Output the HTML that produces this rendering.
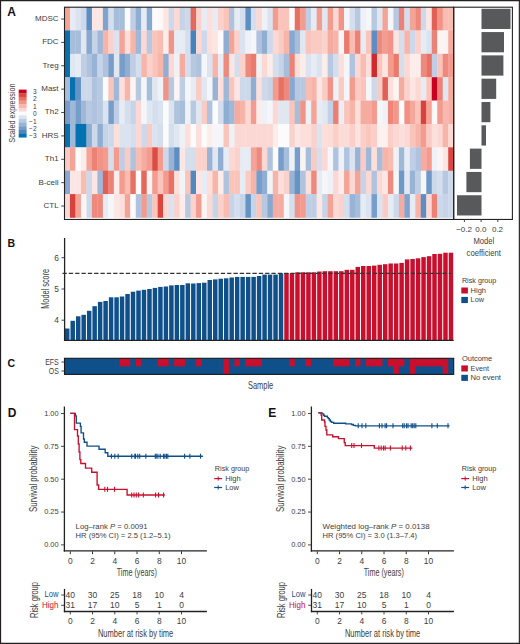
<!DOCTYPE html><html><head><meta charset="utf-8"><style>html,body{margin:0;padding:0;background:#fff;}svg{display:block;font-family:"Liberation Sans",sans-serif;}</style></head><body><svg width="520" height="644" viewBox="0 0 520 644">
<rect x="0" y="0" width="520" height="644" fill="#ffffff"/>
<text x="7.20" y="15.80" font-size="12.00" font-weight="bold" fill="#111">A</text>
<rect x="64.50" y="7.05" width="5.78" height="23.68" fill="#f4a397"/>
<rect x="69.98" y="7.05" width="5.78" height="23.68" fill="#e7ecf4"/>
<rect x="75.46" y="7.05" width="5.78" height="23.68" fill="#dae3ef"/>
<rect x="80.95" y="7.05" width="5.78" height="23.68" fill="#cdd9ea"/>
<rect x="86.43" y="7.05" width="5.78" height="23.68" fill="#5c8ec1"/>
<rect x="91.91" y="7.05" width="5.78" height="23.68" fill="#fce6e3"/>
<rect x="97.39" y="7.05" width="5.78" height="23.68" fill="#fce6e3"/>
<rect x="102.87" y="7.05" width="5.78" height="23.68" fill="#7fa3cd"/>
<rect x="108.35" y="7.05" width="5.78" height="23.68" fill="#d4deec"/>
<rect x="113.84" y="7.05" width="5.78" height="23.68" fill="#a7bedb"/>
<rect x="119.32" y="7.05" width="5.78" height="23.68" fill="#a7bedb"/>
<rect x="124.80" y="7.05" width="5.78" height="23.68" fill="#fbfbfb"/>
<rect x="130.28" y="7.05" width="5.78" height="23.68" fill="#bfcee4"/>
<rect x="135.76" y="7.05" width="5.78" height="23.68" fill="#90add2"/>
<rect x="141.24" y="7.05" width="5.78" height="23.68" fill="#e7ecf4"/>
<rect x="146.73" y="7.05" width="5.78" height="23.68" fill="#87a8d0"/>
<rect x="152.21" y="7.05" width="5.78" height="23.68" fill="#fbfbfb"/>
<rect x="157.69" y="7.05" width="5.78" height="23.68" fill="#fbf8f7"/>
<rect x="163.17" y="7.05" width="5.78" height="23.68" fill="#fce6e3"/>
<rect x="168.65" y="7.05" width="5.78" height="23.68" fill="#cdd9ea"/>
<rect x="174.13" y="7.05" width="5.78" height="23.68" fill="#fbd8d3"/>
<rect x="179.62" y="7.05" width="5.78" height="23.68" fill="#c7d4e7"/>
<rect x="185.10" y="7.05" width="5.78" height="23.68" fill="#cdd9ea"/>
<rect x="190.58" y="7.05" width="5.78" height="23.68" fill="#e4685c"/>
<rect x="196.06" y="7.05" width="5.78" height="23.68" fill="#fbd2cb"/>
<rect x="201.54" y="7.05" width="5.78" height="23.68" fill="#e7ecf4"/>
<rect x="207.02" y="7.05" width="5.78" height="23.68" fill="#fcdfdb"/>
<rect x="212.51" y="7.05" width="5.78" height="23.68" fill="#e7ecf4"/>
<rect x="217.99" y="7.05" width="5.78" height="23.68" fill="#fbd2cb"/>
<rect x="223.47" y="7.05" width="5.78" height="23.68" fill="#fac4bb"/>
<rect x="228.95" y="7.05" width="5.78" height="23.68" fill="#afc3de"/>
<rect x="234.43" y="7.05" width="5.78" height="23.68" fill="#e7ecf4"/>
<rect x="239.91" y="7.05" width="5.78" height="23.68" fill="#d4deec"/>
<rect x="245.40" y="7.05" width="5.78" height="23.68" fill="#5c8ec1"/>
<rect x="250.88" y="7.05" width="5.78" height="23.68" fill="#d4deec"/>
<rect x="256.36" y="7.05" width="5.78" height="23.68" fill="#fbd8d3"/>
<rect x="261.84" y="7.05" width="5.78" height="23.68" fill="#eef1f6"/>
<rect x="267.32" y="7.05" width="5.78" height="23.68" fill="#dae3ef"/>
<rect x="272.80" y="7.05" width="5.78" height="23.68" fill="#f39b8f"/>
<rect x="278.29" y="7.05" width="5.78" height="23.68" fill="#fac4bb"/>
<rect x="283.77" y="7.05" width="5.78" height="23.68" fill="#fac4bb"/>
<rect x="289.25" y="7.05" width="5.78" height="23.68" fill="#fbfbfb"/>
<rect x="294.73" y="7.05" width="5.78" height="23.68" fill="#e77164"/>
<rect x="300.21" y="7.05" width="5.78" height="23.68" fill="#f39b8f"/>
<rect x="305.69" y="7.05" width="5.78" height="23.68" fill="#bfcee4"/>
<rect x="311.18" y="7.05" width="5.78" height="23.68" fill="#e7ecf4"/>
<rect x="316.66" y="7.05" width="5.78" height="23.68" fill="#f39b8f"/>
<rect x="322.14" y="7.05" width="5.78" height="23.68" fill="#e1e7f1"/>
<rect x="327.62" y="7.05" width="5.78" height="23.68" fill="#f39b8f"/>
<rect x="333.10" y="7.05" width="5.78" height="23.68" fill="#fbd8d3"/>
<rect x="338.58" y="7.05" width="5.78" height="23.68" fill="#f19386"/>
<rect x="344.07" y="7.05" width="5.78" height="23.68" fill="#f4f6f9"/>
<rect x="349.55" y="7.05" width="5.78" height="23.68" fill="#d4deec"/>
<rect x="355.03" y="7.05" width="5.78" height="23.68" fill="#b7c9e1"/>
<rect x="360.51" y="7.05" width="5.78" height="23.68" fill="#eef1f6"/>
<rect x="365.99" y="7.05" width="5.78" height="23.68" fill="#f4f6f9"/>
<rect x="371.47" y="7.05" width="5.78" height="23.68" fill="#b7c9e1"/>
<rect x="376.96" y="7.05" width="5.78" height="23.68" fill="#e1e7f1"/>
<rect x="382.44" y="7.05" width="5.78" height="23.68" fill="#f4a397"/>
<rect x="387.92" y="7.05" width="5.78" height="23.68" fill="#f4f6f9"/>
<rect x="393.40" y="7.05" width="5.78" height="23.68" fill="#b7c9e1"/>
<rect x="398.88" y="7.05" width="5.78" height="23.68" fill="#ec8275"/>
<rect x="404.36" y="7.05" width="5.78" height="23.68" fill="#d4deec"/>
<rect x="409.85" y="7.05" width="5.78" height="23.68" fill="#f4a397"/>
<rect x="415.33" y="7.05" width="5.78" height="23.68" fill="#ee8a7d"/>
<rect x="420.81" y="7.05" width="5.78" height="23.68" fill="#cdd9ea"/>
<rect x="426.29" y="7.05" width="5.78" height="23.68" fill="#fce6e3"/>
<rect x="431.77" y="7.05" width="5.78" height="23.68" fill="#e15f54"/>
<rect x="437.25" y="7.05" width="5.78" height="23.68" fill="#f19386"/>
<rect x="442.74" y="7.05" width="5.78" height="23.68" fill="#f9bcb2"/>
<rect x="448.22" y="7.05" width="5.78" height="23.68" fill="#f9bcb2"/>
<rect x="64.50" y="30.43" width="5.78" height="23.68" fill="#0571b0"/>
<rect x="69.98" y="30.43" width="5.78" height="23.68" fill="#a7bedb"/>
<rect x="75.46" y="30.43" width="5.78" height="23.68" fill="#a7bedb"/>
<rect x="80.95" y="30.43" width="5.78" height="23.68" fill="#e1e7f1"/>
<rect x="86.43" y="30.43" width="5.78" height="23.68" fill="#87a8d0"/>
<rect x="91.91" y="30.43" width="5.78" height="23.68" fill="#c7d4e7"/>
<rect x="97.39" y="30.43" width="5.78" height="23.68" fill="#a0b8d8"/>
<rect x="102.87" y="30.43" width="5.78" height="23.68" fill="#f7b4a9"/>
<rect x="108.35" y="30.43" width="5.78" height="23.68" fill="#fbd2cb"/>
<rect x="113.84" y="30.43" width="5.78" height="23.68" fill="#dae3ef"/>
<rect x="119.32" y="30.43" width="5.78" height="23.68" fill="#f4a397"/>
<rect x="124.80" y="30.43" width="5.78" height="23.68" fill="#fcdfdb"/>
<rect x="130.28" y="30.43" width="5.78" height="23.68" fill="#f7b4a9"/>
<rect x="135.76" y="30.43" width="5.78" height="23.68" fill="#a0b8d8"/>
<rect x="141.24" y="30.43" width="5.78" height="23.68" fill="#fbd8d3"/>
<rect x="146.73" y="30.43" width="5.78" height="23.68" fill="#b7c9e1"/>
<rect x="152.21" y="30.43" width="5.78" height="23.68" fill="#fac4bb"/>
<rect x="157.69" y="30.43" width="5.78" height="23.68" fill="#f9bcb2"/>
<rect x="163.17" y="30.43" width="5.78" height="23.68" fill="#fcedeb"/>
<rect x="168.65" y="30.43" width="5.78" height="23.68" fill="#f19386"/>
<rect x="174.13" y="30.43" width="5.78" height="23.68" fill="#e7ecf4"/>
<rect x="179.62" y="30.43" width="5.78" height="23.68" fill="#e7ecf4"/>
<rect x="185.10" y="30.43" width="5.78" height="23.68" fill="#d4deec"/>
<rect x="190.58" y="30.43" width="5.78" height="23.68" fill="#4783bb"/>
<rect x="196.06" y="30.43" width="5.78" height="23.68" fill="#fbd8d3"/>
<rect x="201.54" y="30.43" width="5.78" height="23.68" fill="#cdd9ea"/>
<rect x="207.02" y="30.43" width="5.78" height="23.68" fill="#fcdfdb"/>
<rect x="212.51" y="30.43" width="5.78" height="23.68" fill="#fce6e3"/>
<rect x="217.99" y="30.43" width="5.78" height="23.68" fill="#fbfbfb"/>
<rect x="223.47" y="30.43" width="5.78" height="23.68" fill="#90add2"/>
<rect x="228.95" y="30.43" width="5.78" height="23.68" fill="#f4a397"/>
<rect x="234.43" y="30.43" width="5.78" height="23.68" fill="#fbd2cb"/>
<rect x="239.91" y="30.43" width="5.78" height="23.68" fill="#dae3ef"/>
<rect x="245.40" y="30.43" width="5.78" height="23.68" fill="#eef1f6"/>
<rect x="250.88" y="30.43" width="5.78" height="23.68" fill="#f4f6f9"/>
<rect x="256.36" y="30.43" width="5.78" height="23.68" fill="#afc3de"/>
<rect x="261.84" y="30.43" width="5.78" height="23.68" fill="#90add2"/>
<rect x="267.32" y="30.43" width="5.78" height="23.68" fill="#cdd9ea"/>
<rect x="272.80" y="30.43" width="5.78" height="23.68" fill="#fbd8d3"/>
<rect x="278.29" y="30.43" width="5.78" height="23.68" fill="#facbc3"/>
<rect x="283.77" y="30.43" width="5.78" height="23.68" fill="#f7b4a9"/>
<rect x="289.25" y="30.43" width="5.78" height="23.68" fill="#87a8d0"/>
<rect x="294.73" y="30.43" width="5.78" height="23.68" fill="#a7bedb"/>
<rect x="300.21" y="30.43" width="5.78" height="23.68" fill="#e1e7f1"/>
<rect x="305.69" y="30.43" width="5.78" height="23.68" fill="#fac4bb"/>
<rect x="311.18" y="30.43" width="5.78" height="23.68" fill="#facbc3"/>
<rect x="316.66" y="30.43" width="5.78" height="23.68" fill="#facbc3"/>
<rect x="322.14" y="30.43" width="5.78" height="23.68" fill="#fbd2cb"/>
<rect x="327.62" y="30.43" width="5.78" height="23.68" fill="#f6aba0"/>
<rect x="333.10" y="30.43" width="5.78" height="23.68" fill="#f7b4a9"/>
<rect x="338.58" y="30.43" width="5.78" height="23.68" fill="#f4f6f9"/>
<rect x="344.07" y="30.43" width="5.78" height="23.68" fill="#ea7a6c"/>
<rect x="349.55" y="30.43" width="5.78" height="23.68" fill="#f9bcb2"/>
<rect x="355.03" y="30.43" width="5.78" height="23.68" fill="#ec8275"/>
<rect x="360.51" y="30.43" width="5.78" height="23.68" fill="#e7ecf4"/>
<rect x="365.99" y="30.43" width="5.78" height="23.68" fill="#fac4bb"/>
<rect x="371.47" y="30.43" width="5.78" height="23.68" fill="#5c8ec1"/>
<rect x="376.96" y="30.43" width="5.78" height="23.68" fill="#ee8a7d"/>
<rect x="382.44" y="30.43" width="5.78" height="23.68" fill="#f39b8f"/>
<rect x="387.92" y="30.43" width="5.78" height="23.68" fill="#f19386"/>
<rect x="393.40" y="30.43" width="5.78" height="23.68" fill="#fce6e3"/>
<rect x="398.88" y="30.43" width="5.78" height="23.68" fill="#d4deec"/>
<rect x="404.36" y="30.43" width="5.78" height="23.68" fill="#f7b4a9"/>
<rect x="409.85" y="30.43" width="5.78" height="23.68" fill="#cdd9ea"/>
<rect x="415.33" y="30.43" width="5.78" height="23.68" fill="#fbd2cb"/>
<rect x="420.81" y="30.43" width="5.78" height="23.68" fill="#e7ecf4"/>
<rect x="426.29" y="30.43" width="5.78" height="23.68" fill="#dae3ef"/>
<rect x="431.77" y="30.43" width="5.78" height="23.68" fill="#ec8275"/>
<rect x="437.25" y="30.43" width="5.78" height="23.68" fill="#fbf4f3"/>
<rect x="442.74" y="30.43" width="5.78" height="23.68" fill="#fbf4f3"/>
<rect x="448.22" y="30.43" width="5.78" height="23.68" fill="#f6aba0"/>
<rect x="64.50" y="53.81" width="5.78" height="23.68" fill="#0571b0"/>
<rect x="69.98" y="53.81" width="5.78" height="23.68" fill="#e1e7f1"/>
<rect x="75.46" y="53.81" width="5.78" height="23.68" fill="#e7ecf4"/>
<rect x="80.95" y="53.81" width="5.78" height="23.68" fill="#bfcee4"/>
<rect x="86.43" y="53.81" width="5.78" height="23.68" fill="#afc3de"/>
<rect x="91.91" y="53.81" width="5.78" height="23.68" fill="#98b3d5"/>
<rect x="97.39" y="53.81" width="5.78" height="23.68" fill="#c7d4e7"/>
<rect x="102.87" y="53.81" width="5.78" height="23.68" fill="#afc3de"/>
<rect x="108.35" y="53.81" width="5.78" height="23.68" fill="#779dca"/>
<rect x="113.84" y="53.81" width="5.78" height="23.68" fill="#e1e7f1"/>
<rect x="119.32" y="53.81" width="5.78" height="23.68" fill="#779dca"/>
<rect x="124.80" y="53.81" width="5.78" height="23.68" fill="#90add2"/>
<rect x="130.28" y="53.81" width="5.78" height="23.68" fill="#bfcee4"/>
<rect x="135.76" y="53.81" width="5.78" height="23.68" fill="#d4deec"/>
<rect x="141.24" y="53.81" width="5.78" height="23.68" fill="#f7b4a9"/>
<rect x="146.73" y="53.81" width="5.78" height="23.68" fill="#fbd2cb"/>
<rect x="152.21" y="53.81" width="5.78" height="23.68" fill="#fac4bb"/>
<rect x="157.69" y="53.81" width="5.78" height="23.68" fill="#f7b4a9"/>
<rect x="163.17" y="53.81" width="5.78" height="23.68" fill="#90add2"/>
<rect x="168.65" y="53.81" width="5.78" height="23.68" fill="#fbd8d3"/>
<rect x="174.13" y="53.81" width="5.78" height="23.68" fill="#eef1f6"/>
<rect x="179.62" y="53.81" width="5.78" height="23.68" fill="#f6aba0"/>
<rect x="185.10" y="53.81" width="5.78" height="23.68" fill="#d4deec"/>
<rect x="190.58" y="53.81" width="5.78" height="23.68" fill="#b7c9e1"/>
<rect x="196.06" y="53.81" width="5.78" height="23.68" fill="#afc3de"/>
<rect x="201.54" y="53.81" width="5.78" height="23.68" fill="#f4f6f9"/>
<rect x="207.02" y="53.81" width="5.78" height="23.68" fill="#dae3ef"/>
<rect x="212.51" y="53.81" width="5.78" height="23.68" fill="#f7b4a9"/>
<rect x="217.99" y="53.81" width="5.78" height="23.68" fill="#e7ecf4"/>
<rect x="223.47" y="53.81" width="5.78" height="23.68" fill="#ee8a7d"/>
<rect x="228.95" y="53.81" width="5.78" height="23.68" fill="#fce6e3"/>
<rect x="234.43" y="53.81" width="5.78" height="23.68" fill="#d4deec"/>
<rect x="239.91" y="53.81" width="5.78" height="23.68" fill="#fbd2cb"/>
<rect x="245.40" y="53.81" width="5.78" height="23.68" fill="#ee8a7d"/>
<rect x="250.88" y="53.81" width="5.78" height="23.68" fill="#ea7a6c"/>
<rect x="256.36" y="53.81" width="5.78" height="23.68" fill="#eef1f6"/>
<rect x="261.84" y="53.81" width="5.78" height="23.68" fill="#fbd8d3"/>
<rect x="267.32" y="53.81" width="5.78" height="23.68" fill="#fcedeb"/>
<rect x="272.80" y="53.81" width="5.78" height="23.68" fill="#d4deec"/>
<rect x="278.29" y="53.81" width="5.78" height="23.68" fill="#c7d4e7"/>
<rect x="283.77" y="53.81" width="5.78" height="23.68" fill="#a7bedb"/>
<rect x="289.25" y="53.81" width="5.78" height="23.68" fill="#ec8275"/>
<rect x="294.73" y="53.81" width="5.78" height="23.68" fill="#fcdfdb"/>
<rect x="300.21" y="53.81" width="5.78" height="23.68" fill="#fcedeb"/>
<rect x="305.69" y="53.81" width="5.78" height="23.68" fill="#dae3ef"/>
<rect x="311.18" y="53.81" width="5.78" height="23.68" fill="#e7ecf4"/>
<rect x="316.66" y="53.81" width="5.78" height="23.68" fill="#dae3ef"/>
<rect x="322.14" y="53.81" width="5.78" height="23.68" fill="#fcedeb"/>
<rect x="327.62" y="53.81" width="5.78" height="23.68" fill="#b7c9e1"/>
<rect x="333.10" y="53.81" width="5.78" height="23.68" fill="#d4deec"/>
<rect x="338.58" y="53.81" width="5.78" height="23.68" fill="#fcdfdb"/>
<rect x="344.07" y="53.81" width="5.78" height="23.68" fill="#f4f6f9"/>
<rect x="349.55" y="53.81" width="5.78" height="23.68" fill="#afc3de"/>
<rect x="355.03" y="53.81" width="5.78" height="23.68" fill="#fbd8d3"/>
<rect x="360.51" y="53.81" width="5.78" height="23.68" fill="#f9bcb2"/>
<rect x="365.99" y="53.81" width="5.78" height="23.68" fill="#fcdfdb"/>
<rect x="371.47" y="53.81" width="5.78" height="23.68" fill="#d0282c"/>
<rect x="376.96" y="53.81" width="5.78" height="23.68" fill="#fac4bb"/>
<rect x="382.44" y="53.81" width="5.78" height="23.68" fill="#fce6e3"/>
<rect x="387.92" y="53.81" width="5.78" height="23.68" fill="#f39b8f"/>
<rect x="393.40" y="53.81" width="5.78" height="23.68" fill="#ea7a6c"/>
<rect x="398.88" y="53.81" width="5.78" height="23.68" fill="#d4deec"/>
<rect x="404.36" y="53.81" width="5.78" height="23.68" fill="#fbd8d3"/>
<rect x="409.85" y="53.81" width="5.78" height="23.68" fill="#fcedeb"/>
<rect x="415.33" y="53.81" width="5.78" height="23.68" fill="#fcedeb"/>
<rect x="420.81" y="53.81" width="5.78" height="23.68" fill="#ee8a7d"/>
<rect x="426.29" y="53.81" width="5.78" height="23.68" fill="#e77164"/>
<rect x="431.77" y="53.81" width="5.78" height="23.68" fill="#bfcee4"/>
<rect x="437.25" y="53.81" width="5.78" height="23.68" fill="#fac4bb"/>
<rect x="442.74" y="53.81" width="5.78" height="23.68" fill="#ee8a7d"/>
<rect x="448.22" y="53.81" width="5.78" height="23.68" fill="#f39b8f"/>
<rect x="64.50" y="77.19" width="5.78" height="23.68" fill="#a7bedb"/>
<rect x="69.98" y="77.19" width="5.78" height="23.68" fill="#0571b0"/>
<rect x="75.46" y="77.19" width="5.78" height="23.68" fill="#6593c4"/>
<rect x="80.95" y="77.19" width="5.78" height="23.68" fill="#cdd9ea"/>
<rect x="86.43" y="77.19" width="5.78" height="23.68" fill="#cdd9ea"/>
<rect x="91.91" y="77.19" width="5.78" height="23.68" fill="#afc3de"/>
<rect x="97.39" y="77.19" width="5.78" height="23.68" fill="#b7c9e1"/>
<rect x="102.87" y="77.19" width="5.78" height="23.68" fill="#fbfbfb"/>
<rect x="108.35" y="77.19" width="5.78" height="23.68" fill="#fac4bb"/>
<rect x="113.84" y="77.19" width="5.78" height="23.68" fill="#a0b8d8"/>
<rect x="119.32" y="77.19" width="5.78" height="23.68" fill="#fcdfdb"/>
<rect x="124.80" y="77.19" width="5.78" height="23.68" fill="#f7b4a9"/>
<rect x="130.28" y="77.19" width="5.78" height="23.68" fill="#fbf4f3"/>
<rect x="135.76" y="77.19" width="5.78" height="23.68" fill="#b7c9e1"/>
<rect x="141.24" y="77.19" width="5.78" height="23.68" fill="#f4f6f9"/>
<rect x="146.73" y="77.19" width="5.78" height="23.68" fill="#a7bedb"/>
<rect x="152.21" y="77.19" width="5.78" height="23.68" fill="#e1e7f1"/>
<rect x="157.69" y="77.19" width="5.78" height="23.68" fill="#eef1f6"/>
<rect x="163.17" y="77.19" width="5.78" height="23.68" fill="#f19386"/>
<rect x="168.65" y="77.19" width="5.78" height="23.68" fill="#b7c9e1"/>
<rect x="174.13" y="77.19" width="5.78" height="23.68" fill="#fbf4f3"/>
<rect x="179.62" y="77.19" width="5.78" height="23.68" fill="#bfcee4"/>
<rect x="185.10" y="77.19" width="5.78" height="23.68" fill="#f4f6f9"/>
<rect x="190.58" y="77.19" width="5.78" height="23.68" fill="#e7ecf4"/>
<rect x="196.06" y="77.19" width="5.78" height="23.68" fill="#facbc3"/>
<rect x="201.54" y="77.19" width="5.78" height="23.68" fill="#e1e7f1"/>
<rect x="207.02" y="77.19" width="5.78" height="23.68" fill="#f4f6f9"/>
<rect x="212.51" y="77.19" width="5.78" height="23.68" fill="#98b3d5"/>
<rect x="217.99" y="77.19" width="5.78" height="23.68" fill="#fcdfdb"/>
<rect x="223.47" y="77.19" width="5.78" height="23.68" fill="#a0b8d8"/>
<rect x="228.95" y="77.19" width="5.78" height="23.68" fill="#fac4bb"/>
<rect x="234.43" y="77.19" width="5.78" height="23.68" fill="#fce6e3"/>
<rect x="239.91" y="77.19" width="5.78" height="23.68" fill="#cdd9ea"/>
<rect x="245.40" y="77.19" width="5.78" height="23.68" fill="#cdd9ea"/>
<rect x="250.88" y="77.19" width="5.78" height="23.68" fill="#90add2"/>
<rect x="256.36" y="77.19" width="5.78" height="23.68" fill="#fcdfdb"/>
<rect x="261.84" y="77.19" width="5.78" height="23.68" fill="#cdd9ea"/>
<rect x="267.32" y="77.19" width="5.78" height="23.68" fill="#c7d4e7"/>
<rect x="272.80" y="77.19" width="5.78" height="23.68" fill="#f39b8f"/>
<rect x="278.29" y="77.19" width="5.78" height="23.68" fill="#e77164"/>
<rect x="283.77" y="77.19" width="5.78" height="23.68" fill="#ee8a7d"/>
<rect x="289.25" y="77.19" width="5.78" height="23.68" fill="#87a8d0"/>
<rect x="294.73" y="77.19" width="5.78" height="23.68" fill="#b7c9e1"/>
<rect x="300.21" y="77.19" width="5.78" height="23.68" fill="#b7c9e1"/>
<rect x="305.69" y="77.19" width="5.78" height="23.68" fill="#f9bcb2"/>
<rect x="311.18" y="77.19" width="5.78" height="23.68" fill="#f7b4a9"/>
<rect x="316.66" y="77.19" width="5.78" height="23.68" fill="#fce6e3"/>
<rect x="322.14" y="77.19" width="5.78" height="23.68" fill="#facbc3"/>
<rect x="327.62" y="77.19" width="5.78" height="23.68" fill="#f19386"/>
<rect x="333.10" y="77.19" width="5.78" height="23.68" fill="#eef1f6"/>
<rect x="338.58" y="77.19" width="5.78" height="23.68" fill="#facbc3"/>
<rect x="344.07" y="77.19" width="5.78" height="23.68" fill="#f4f6f9"/>
<rect x="349.55" y="77.19" width="5.78" height="23.68" fill="#f39b8f"/>
<rect x="355.03" y="77.19" width="5.78" height="23.68" fill="#facbc3"/>
<rect x="360.51" y="77.19" width="5.78" height="23.68" fill="#fac4bb"/>
<rect x="365.99" y="77.19" width="5.78" height="23.68" fill="#f4f6f9"/>
<rect x="371.47" y="77.19" width="5.78" height="23.68" fill="#cdd9ea"/>
<rect x="376.96" y="77.19" width="5.78" height="23.68" fill="#facbc3"/>
<rect x="382.44" y="77.19" width="5.78" height="23.68" fill="#e15f54"/>
<rect x="387.92" y="77.19" width="5.78" height="23.68" fill="#fcdfdb"/>
<rect x="393.40" y="77.19" width="5.78" height="23.68" fill="#fbf4f3"/>
<rect x="398.88" y="77.19" width="5.78" height="23.68" fill="#f6aba0"/>
<rect x="404.36" y="77.19" width="5.78" height="23.68" fill="#fbd2cb"/>
<rect x="409.85" y="77.19" width="5.78" height="23.68" fill="#fce6e3"/>
<rect x="415.33" y="77.19" width="5.78" height="23.68" fill="#fbd8d3"/>
<rect x="420.81" y="77.19" width="5.78" height="23.68" fill="#e7ecf4"/>
<rect x="426.29" y="77.19" width="5.78" height="23.68" fill="#fac4bb"/>
<rect x="431.77" y="77.19" width="5.78" height="23.68" fill="#ca0020"/>
<rect x="437.25" y="77.19" width="5.78" height="23.68" fill="#ec8275"/>
<rect x="442.74" y="77.19" width="5.78" height="23.68" fill="#e1e7f1"/>
<rect x="448.22" y="77.19" width="5.78" height="23.68" fill="#f6aba0"/>
<rect x="64.50" y="100.57" width="5.78" height="23.68" fill="#779dca"/>
<rect x="69.98" y="100.57" width="5.78" height="23.68" fill="#a0b8d8"/>
<rect x="75.46" y="100.57" width="5.78" height="23.68" fill="#779dca"/>
<rect x="80.95" y="100.57" width="5.78" height="23.68" fill="#a0b8d8"/>
<rect x="86.43" y="100.57" width="5.78" height="23.68" fill="#b7c9e1"/>
<rect x="91.91" y="100.57" width="5.78" height="23.68" fill="#afc3de"/>
<rect x="97.39" y="100.57" width="5.78" height="23.68" fill="#b7c9e1"/>
<rect x="102.87" y="100.57" width="5.78" height="23.68" fill="#dae3ef"/>
<rect x="108.35" y="100.57" width="5.78" height="23.68" fill="#779dca"/>
<rect x="113.84" y="100.57" width="5.78" height="23.68" fill="#bfcee4"/>
<rect x="119.32" y="100.57" width="5.78" height="23.68" fill="#e7ecf4"/>
<rect x="124.80" y="100.57" width="5.78" height="23.68" fill="#d4deec"/>
<rect x="130.28" y="100.57" width="5.78" height="23.68" fill="#c7d4e7"/>
<rect x="135.76" y="100.57" width="5.78" height="23.68" fill="#fbd8d3"/>
<rect x="141.24" y="100.57" width="5.78" height="23.68" fill="#f4f6f9"/>
<rect x="146.73" y="100.57" width="5.78" height="23.68" fill="#e1e7f1"/>
<rect x="152.21" y="100.57" width="5.78" height="23.68" fill="#d4deec"/>
<rect x="157.69" y="100.57" width="5.78" height="23.68" fill="#dae3ef"/>
<rect x="163.17" y="100.57" width="5.78" height="23.68" fill="#fbfbfb"/>
<rect x="168.65" y="100.57" width="5.78" height="23.68" fill="#dae3ef"/>
<rect x="174.13" y="100.57" width="5.78" height="23.68" fill="#afc3de"/>
<rect x="179.62" y="100.57" width="5.78" height="23.68" fill="#a7bedb"/>
<rect x="185.10" y="100.57" width="5.78" height="23.68" fill="#eef1f6"/>
<rect x="190.58" y="100.57" width="5.78" height="23.68" fill="#b7c9e1"/>
<rect x="196.06" y="100.57" width="5.78" height="23.68" fill="#e1e7f1"/>
<rect x="201.54" y="100.57" width="5.78" height="23.68" fill="#facbc3"/>
<rect x="207.02" y="100.57" width="5.78" height="23.68" fill="#afc3de"/>
<rect x="212.51" y="100.57" width="5.78" height="23.68" fill="#fbfbfb"/>
<rect x="217.99" y="100.57" width="5.78" height="23.68" fill="#d4deec"/>
<rect x="223.47" y="100.57" width="5.78" height="23.68" fill="#90add2"/>
<rect x="228.95" y="100.57" width="5.78" height="23.68" fill="#a0b8d8"/>
<rect x="234.43" y="100.57" width="5.78" height="23.68" fill="#f6aba0"/>
<rect x="239.91" y="100.57" width="5.78" height="23.68" fill="#f7b4a9"/>
<rect x="245.40" y="100.57" width="5.78" height="23.68" fill="#fbd8d3"/>
<rect x="250.88" y="100.57" width="5.78" height="23.68" fill="#f39b8f"/>
<rect x="256.36" y="100.57" width="5.78" height="23.68" fill="#fcedeb"/>
<rect x="261.84" y="100.57" width="5.78" height="23.68" fill="#eef1f6"/>
<rect x="267.32" y="100.57" width="5.78" height="23.68" fill="#f4f6f9"/>
<rect x="272.80" y="100.57" width="5.78" height="23.68" fill="#fbd8d3"/>
<rect x="278.29" y="100.57" width="5.78" height="23.68" fill="#e1e7f1"/>
<rect x="283.77" y="100.57" width="5.78" height="23.68" fill="#e1e7f1"/>
<rect x="289.25" y="100.57" width="5.78" height="23.68" fill="#fac4bb"/>
<rect x="294.73" y="100.57" width="5.78" height="23.68" fill="#a7bedb"/>
<rect x="300.21" y="100.57" width="5.78" height="23.68" fill="#f19386"/>
<rect x="305.69" y="100.57" width="5.78" height="23.68" fill="#eef1f6"/>
<rect x="311.18" y="100.57" width="5.78" height="23.68" fill="#f4a397"/>
<rect x="316.66" y="100.57" width="5.78" height="23.68" fill="#e7ecf4"/>
<rect x="322.14" y="100.57" width="5.78" height="23.68" fill="#e1e7f1"/>
<rect x="327.62" y="100.57" width="5.78" height="23.68" fill="#c3d1e6"/>
<rect x="333.10" y="100.57" width="5.78" height="23.68" fill="#eb7e71"/>
<rect x="338.58" y="100.57" width="5.78" height="23.68" fill="#ebeff5"/>
<rect x="344.07" y="100.57" width="5.78" height="23.68" fill="#fac4bb"/>
<rect x="349.55" y="100.57" width="5.78" height="23.68" fill="#f7b4a9"/>
<rect x="355.03" y="100.57" width="5.78" height="23.68" fill="#fcdfdb"/>
<rect x="360.51" y="100.57" width="5.78" height="23.68" fill="#f6aba0"/>
<rect x="365.99" y="100.57" width="5.78" height="23.68" fill="#f6aba0"/>
<rect x="371.47" y="100.57" width="5.78" height="23.68" fill="#f39b8f"/>
<rect x="376.96" y="100.57" width="5.78" height="23.68" fill="#f4f6f9"/>
<rect x="382.44" y="100.57" width="5.78" height="23.68" fill="#eef1f6"/>
<rect x="387.92" y="100.57" width="5.78" height="23.68" fill="#ed8679"/>
<rect x="393.40" y="100.57" width="5.78" height="23.68" fill="#f2978a"/>
<rect x="398.88" y="100.57" width="5.78" height="23.68" fill="#fbfbfb"/>
<rect x="404.36" y="100.57" width="5.78" height="23.68" fill="#f08f82"/>
<rect x="409.85" y="100.57" width="5.78" height="23.68" fill="#f5a79c"/>
<rect x="415.33" y="100.57" width="5.78" height="23.68" fill="#fac4bb"/>
<rect x="420.81" y="100.57" width="5.78" height="23.68" fill="#d8423c"/>
<rect x="426.29" y="100.57" width="5.78" height="23.68" fill="#f4a397"/>
<rect x="431.77" y="100.57" width="5.78" height="23.68" fill="#fbf8f7"/>
<rect x="437.25" y="100.57" width="5.78" height="23.68" fill="#f39b8f"/>
<rect x="442.74" y="100.57" width="5.78" height="23.68" fill="#f8b8ae"/>
<rect x="448.22" y="100.57" width="5.78" height="23.68" fill="#f7afa5"/>
<rect x="64.50" y="123.95" width="5.78" height="23.68" fill="#0571b0"/>
<rect x="69.98" y="123.95" width="5.78" height="23.68" fill="#a0b8d8"/>
<rect x="75.46" y="123.95" width="5.78" height="23.68" fill="#0571b0"/>
<rect x="80.95" y="123.95" width="5.78" height="23.68" fill="#0571b0"/>
<rect x="86.43" y="123.95" width="5.78" height="23.68" fill="#90add2"/>
<rect x="91.91" y="123.95" width="5.78" height="23.68" fill="#cdd9ea"/>
<rect x="97.39" y="123.95" width="5.78" height="23.68" fill="#90add2"/>
<rect x="102.87" y="123.95" width="5.78" height="23.68" fill="#c7d4e7"/>
<rect x="108.35" y="123.95" width="5.78" height="23.68" fill="#cdd9ea"/>
<rect x="113.84" y="123.95" width="5.78" height="23.68" fill="#fcdfdb"/>
<rect x="119.32" y="123.95" width="5.78" height="23.68" fill="#dae3ef"/>
<rect x="124.80" y="123.95" width="5.78" height="23.68" fill="#dae3ef"/>
<rect x="130.28" y="123.95" width="5.78" height="23.68" fill="#d4deec"/>
<rect x="135.76" y="123.95" width="5.78" height="23.68" fill="#fbd8d3"/>
<rect x="141.24" y="123.95" width="5.78" height="23.68" fill="#cdd9ea"/>
<rect x="146.73" y="123.95" width="5.78" height="23.68" fill="#facbc3"/>
<rect x="152.21" y="123.95" width="5.78" height="23.68" fill="#dae3ef"/>
<rect x="157.69" y="123.95" width="5.78" height="23.68" fill="#d4deec"/>
<rect x="163.17" y="123.95" width="5.78" height="23.68" fill="#fbfbfb"/>
<rect x="168.65" y="123.95" width="5.78" height="23.68" fill="#d4deec"/>
<rect x="174.13" y="123.95" width="5.78" height="23.68" fill="#e1e7f1"/>
<rect x="179.62" y="123.95" width="5.78" height="23.68" fill="#eef1f6"/>
<rect x="185.10" y="123.95" width="5.78" height="23.68" fill="#fcdfdb"/>
<rect x="190.58" y="123.95" width="5.78" height="23.68" fill="#fbfbfb"/>
<rect x="196.06" y="123.95" width="5.78" height="23.68" fill="#fcdfdb"/>
<rect x="201.54" y="123.95" width="5.78" height="23.68" fill="#fbfbfb"/>
<rect x="207.02" y="123.95" width="5.78" height="23.68" fill="#fcedeb"/>
<rect x="212.51" y="123.95" width="5.78" height="23.68" fill="#f4f6f9"/>
<rect x="217.99" y="123.95" width="5.78" height="23.68" fill="#f4f6f9"/>
<rect x="223.47" y="123.95" width="5.78" height="23.68" fill="#fac4bb"/>
<rect x="228.95" y="123.95" width="5.78" height="23.68" fill="#eef1f6"/>
<rect x="234.43" y="123.95" width="5.78" height="23.68" fill="#fbd8d3"/>
<rect x="239.91" y="123.95" width="5.78" height="23.68" fill="#fbd8d3"/>
<rect x="245.40" y="123.95" width="5.78" height="23.68" fill="#fbd8d3"/>
<rect x="250.88" y="123.95" width="5.78" height="23.68" fill="#fbd8d3"/>
<rect x="256.36" y="123.95" width="5.78" height="23.68" fill="#fbd8d3"/>
<rect x="261.84" y="123.95" width="5.78" height="23.68" fill="#fbd8d3"/>
<rect x="267.32" y="123.95" width="5.78" height="23.68" fill="#fbd8d3"/>
<rect x="272.80" y="123.95" width="5.78" height="23.68" fill="#fcedeb"/>
<rect x="278.29" y="123.95" width="5.78" height="23.68" fill="#fbfbfb"/>
<rect x="283.77" y="123.95" width="5.78" height="23.68" fill="#fbfbfb"/>
<rect x="289.25" y="123.95" width="5.78" height="23.68" fill="#fbd2cb"/>
<rect x="294.73" y="123.95" width="5.78" height="23.68" fill="#fce6e3"/>
<rect x="300.21" y="123.95" width="5.78" height="23.68" fill="#fcdfdb"/>
<rect x="305.69" y="123.95" width="5.78" height="23.68" fill="#fcdfdb"/>
<rect x="311.18" y="123.95" width="5.78" height="23.68" fill="#fbd2cb"/>
<rect x="316.66" y="123.95" width="5.78" height="23.68" fill="#dae3ef"/>
<rect x="322.14" y="123.95" width="5.78" height="23.68" fill="#fcdfdb"/>
<rect x="327.62" y="123.95" width="5.78" height="23.68" fill="#fcdcd7"/>
<rect x="333.10" y="123.95" width="5.78" height="23.68" fill="#fbcec7"/>
<rect x="338.58" y="123.95" width="5.78" height="23.68" fill="#fcdcd7"/>
<rect x="344.07" y="123.95" width="5.78" height="23.68" fill="#fcdcd7"/>
<rect x="349.55" y="123.95" width="5.78" height="23.68" fill="#fbcec7"/>
<rect x="355.03" y="123.95" width="5.78" height="23.68" fill="#fce3df"/>
<rect x="360.51" y="123.95" width="5.78" height="23.68" fill="#fbcec7"/>
<rect x="365.99" y="123.95" width="5.78" height="23.68" fill="#fac7bf"/>
<rect x="371.47" y="123.95" width="5.78" height="23.68" fill="#fbcec7"/>
<rect x="376.96" y="123.95" width="5.78" height="23.68" fill="#fcf1ef"/>
<rect x="382.44" y="123.95" width="5.78" height="23.68" fill="#fcf1ef"/>
<rect x="387.92" y="123.95" width="5.78" height="23.68" fill="#fbcec7"/>
<rect x="393.40" y="123.95" width="5.78" height="23.68" fill="#fbd8d3"/>
<rect x="398.88" y="123.95" width="5.78" height="23.68" fill="#fcdfdb"/>
<rect x="404.36" y="123.95" width="5.78" height="23.68" fill="#fbd8d3"/>
<rect x="409.85" y="123.95" width="5.78" height="23.68" fill="#fac4bb"/>
<rect x="415.33" y="123.95" width="5.78" height="23.68" fill="#f7b4a9"/>
<rect x="420.81" y="123.95" width="5.78" height="23.68" fill="#f39b8f"/>
<rect x="426.29" y="123.95" width="5.78" height="23.68" fill="#facbc3"/>
<rect x="431.77" y="123.95" width="5.78" height="23.68" fill="#fcdfdb"/>
<rect x="437.25" y="123.95" width="5.78" height="23.68" fill="#fbd8d3"/>
<rect x="442.74" y="123.95" width="5.78" height="23.68" fill="#f7b4a9"/>
<rect x="448.22" y="123.95" width="5.78" height="23.68" fill="#fbd8d3"/>
<rect x="64.50" y="147.33" width="5.78" height="23.68" fill="#facbc3"/>
<rect x="69.98" y="147.33" width="5.78" height="23.68" fill="#f4a397"/>
<rect x="75.46" y="147.33" width="5.78" height="23.68" fill="#fbfbfb"/>
<rect x="80.95" y="147.33" width="5.78" height="23.68" fill="#fcedeb"/>
<rect x="86.43" y="147.33" width="5.78" height="23.68" fill="#f4a397"/>
<rect x="91.91" y="147.33" width="5.78" height="23.68" fill="#ec8275"/>
<rect x="97.39" y="147.33" width="5.78" height="23.68" fill="#f19386"/>
<rect x="102.87" y="147.33" width="5.78" height="23.68" fill="#f39b8f"/>
<rect x="108.35" y="147.33" width="5.78" height="23.68" fill="#d4deec"/>
<rect x="113.84" y="147.33" width="5.78" height="23.68" fill="#f39b8f"/>
<rect x="119.32" y="147.33" width="5.78" height="23.68" fill="#bfcee4"/>
<rect x="124.80" y="147.33" width="5.78" height="23.68" fill="#facbc3"/>
<rect x="130.28" y="147.33" width="5.78" height="23.68" fill="#afc3de"/>
<rect x="135.76" y="147.33" width="5.78" height="23.68" fill="#f9bcb2"/>
<rect x="141.24" y="147.33" width="5.78" height="23.68" fill="#f6aba0"/>
<rect x="146.73" y="147.33" width="5.78" height="23.68" fill="#f39b8f"/>
<rect x="152.21" y="147.33" width="5.78" height="23.68" fill="#db4c44"/>
<rect x="157.69" y="147.33" width="5.78" height="23.68" fill="#f39b8f"/>
<rect x="163.17" y="147.33" width="5.78" height="23.68" fill="#cdd9ea"/>
<rect x="168.65" y="147.33" width="5.78" height="23.68" fill="#98b3d5"/>
<rect x="174.13" y="147.33" width="5.78" height="23.68" fill="#5c8ec1"/>
<rect x="179.62" y="147.33" width="5.78" height="23.68" fill="#fce6e3"/>
<rect x="185.10" y="147.33" width="5.78" height="23.68" fill="#d4deec"/>
<rect x="190.58" y="147.33" width="5.78" height="23.68" fill="#d4deec"/>
<rect x="196.06" y="147.33" width="5.78" height="23.68" fill="#fbd2cb"/>
<rect x="201.54" y="147.33" width="5.78" height="23.68" fill="#fbd2cb"/>
<rect x="207.02" y="147.33" width="5.78" height="23.68" fill="#98b3d5"/>
<rect x="212.51" y="147.33" width="5.78" height="23.68" fill="#e1e7f1"/>
<rect x="217.99" y="147.33" width="5.78" height="23.68" fill="#90add2"/>
<rect x="223.47" y="147.33" width="5.78" height="23.68" fill="#e7ecf4"/>
<rect x="228.95" y="147.33" width="5.78" height="23.68" fill="#fbd8d3"/>
<rect x="234.43" y="147.33" width="5.78" height="23.68" fill="#fbd2cb"/>
<rect x="239.91" y="147.33" width="5.78" height="23.68" fill="#e7ecf4"/>
<rect x="245.40" y="147.33" width="5.78" height="23.68" fill="#e7ecf4"/>
<rect x="250.88" y="147.33" width="5.78" height="23.68" fill="#f4a397"/>
<rect x="256.36" y="147.33" width="5.78" height="23.68" fill="#ee8a7d"/>
<rect x="261.84" y="147.33" width="5.78" height="23.68" fill="#fbd8d3"/>
<rect x="267.32" y="147.33" width="5.78" height="23.68" fill="#afc3de"/>
<rect x="272.80" y="147.33" width="5.78" height="23.68" fill="#fbfbfb"/>
<rect x="278.29" y="147.33" width="5.78" height="23.68" fill="#779dca"/>
<rect x="283.77" y="147.33" width="5.78" height="23.68" fill="#a7bedb"/>
<rect x="289.25" y="147.33" width="5.78" height="23.68" fill="#eef1f6"/>
<rect x="294.73" y="147.33" width="5.78" height="23.68" fill="#779dca"/>
<rect x="300.21" y="147.33" width="5.78" height="23.68" fill="#fbf4f3"/>
<rect x="305.69" y="147.33" width="5.78" height="23.68" fill="#a7bedb"/>
<rect x="311.18" y="147.33" width="5.78" height="23.68" fill="#facbc3"/>
<rect x="316.66" y="147.33" width="5.78" height="23.68" fill="#d4deec"/>
<rect x="322.14" y="147.33" width="5.78" height="23.68" fill="#fbd8d3"/>
<rect x="327.62" y="147.33" width="5.78" height="23.68" fill="#f4f6f9"/>
<rect x="333.10" y="147.33" width="5.78" height="23.68" fill="#afc3de"/>
<rect x="338.58" y="147.33" width="5.78" height="23.68" fill="#eef1f6"/>
<rect x="344.07" y="147.33" width="5.78" height="23.68" fill="#afc3de"/>
<rect x="349.55" y="147.33" width="5.78" height="23.68" fill="#dae3ef"/>
<rect x="355.03" y="147.33" width="5.78" height="23.68" fill="#98b3d5"/>
<rect x="360.51" y="147.33" width="5.78" height="23.68" fill="#facbc3"/>
<rect x="365.99" y="147.33" width="5.78" height="23.68" fill="#a0b8d8"/>
<rect x="371.47" y="147.33" width="5.78" height="23.68" fill="#fcdfdb"/>
<rect x="376.96" y="147.33" width="5.78" height="23.68" fill="#a7bedb"/>
<rect x="382.44" y="147.33" width="5.78" height="23.68" fill="#f7b4a9"/>
<rect x="387.92" y="147.33" width="5.78" height="23.68" fill="#f9bcb2"/>
<rect x="393.40" y="147.33" width="5.78" height="23.68" fill="#eef1f6"/>
<rect x="398.88" y="147.33" width="5.78" height="23.68" fill="#a0b8d8"/>
<rect x="404.36" y="147.33" width="5.78" height="23.68" fill="#e7ecf4"/>
<rect x="409.85" y="147.33" width="5.78" height="23.68" fill="#bfcee4"/>
<rect x="415.33" y="147.33" width="5.78" height="23.68" fill="#afc3de"/>
<rect x="420.81" y="147.33" width="5.78" height="23.68" fill="#f6aba0"/>
<rect x="426.29" y="147.33" width="5.78" height="23.68" fill="#f39b8f"/>
<rect x="431.77" y="147.33" width="5.78" height="23.68" fill="#eef1f6"/>
<rect x="437.25" y="147.33" width="5.78" height="23.68" fill="#fbf4f3"/>
<rect x="442.74" y="147.33" width="5.78" height="23.68" fill="#fce6e3"/>
<rect x="448.22" y="147.33" width="5.78" height="23.68" fill="#d94740"/>
<rect x="64.50" y="170.71" width="5.78" height="23.68" fill="#87a8d0"/>
<rect x="69.98" y="170.71" width="5.78" height="23.68" fill="#fce6e3"/>
<rect x="75.46" y="170.71" width="5.78" height="23.68" fill="#fce6e3"/>
<rect x="80.95" y="170.71" width="5.78" height="23.68" fill="#f9bcb2"/>
<rect x="86.43" y="170.71" width="5.78" height="23.68" fill="#cdd9ea"/>
<rect x="91.91" y="170.71" width="5.78" height="23.68" fill="#fce6e3"/>
<rect x="97.39" y="170.71" width="5.78" height="23.68" fill="#a0b8d8"/>
<rect x="102.87" y="170.71" width="5.78" height="23.68" fill="#e15f54"/>
<rect x="108.35" y="170.71" width="5.78" height="23.68" fill="#ec8275"/>
<rect x="113.84" y="170.71" width="5.78" height="23.68" fill="#fcedeb"/>
<rect x="119.32" y="170.71" width="5.78" height="23.68" fill="#f39b8f"/>
<rect x="124.80" y="170.71" width="5.78" height="23.68" fill="#f9bcb2"/>
<rect x="130.28" y="170.71" width="5.78" height="23.68" fill="#e77164"/>
<rect x="135.76" y="170.71" width="5.78" height="23.68" fill="#fbfbfb"/>
<rect x="141.24" y="170.71" width="5.78" height="23.68" fill="#e4685c"/>
<rect x="146.73" y="170.71" width="5.78" height="23.68" fill="#fbf4f3"/>
<rect x="152.21" y="170.71" width="5.78" height="23.68" fill="#f39b8f"/>
<rect x="157.69" y="170.71" width="5.78" height="23.68" fill="#fac4bb"/>
<rect x="163.17" y="170.71" width="5.78" height="23.68" fill="#f39b8f"/>
<rect x="168.65" y="170.71" width="5.78" height="23.68" fill="#e77164"/>
<rect x="174.13" y="170.71" width="5.78" height="23.68" fill="#fcdfdb"/>
<rect x="179.62" y="170.71" width="5.78" height="23.68" fill="#f1f4f7"/>
<rect x="185.10" y="170.71" width="5.78" height="23.68" fill="#fac4bb"/>
<rect x="190.58" y="170.71" width="5.78" height="23.68" fill="#5288be"/>
<rect x="196.06" y="170.71" width="5.78" height="23.68" fill="#fce6e3"/>
<rect x="201.54" y="170.71" width="5.78" height="23.68" fill="#e7ecf4"/>
<rect x="207.02" y="170.71" width="5.78" height="23.68" fill="#fcdfdb"/>
<rect x="212.51" y="170.71" width="5.78" height="23.68" fill="#f7b4a9"/>
<rect x="217.99" y="170.71" width="5.78" height="23.68" fill="#fcedeb"/>
<rect x="223.47" y="170.71" width="5.78" height="23.68" fill="#afc3de"/>
<rect x="228.95" y="170.71" width="5.78" height="23.68" fill="#fac4bb"/>
<rect x="234.43" y="170.71" width="5.78" height="23.68" fill="#fac4bb"/>
<rect x="239.91" y="170.71" width="5.78" height="23.68" fill="#e7ecf4"/>
<rect x="245.40" y="170.71" width="5.78" height="23.68" fill="#facbc3"/>
<rect x="250.88" y="170.71" width="5.78" height="23.68" fill="#f7b4a9"/>
<rect x="256.36" y="170.71" width="5.78" height="23.68" fill="#779dca"/>
<rect x="261.84" y="170.71" width="5.78" height="23.68" fill="#90add2"/>
<rect x="267.32" y="170.71" width="5.78" height="23.68" fill="#f1f4f7"/>
<rect x="272.80" y="170.71" width="5.78" height="23.68" fill="#f7b4a9"/>
<rect x="278.29" y="170.71" width="5.78" height="23.68" fill="#fcdfdb"/>
<rect x="283.77" y="170.71" width="5.78" height="23.68" fill="#fbd2cb"/>
<rect x="289.25" y="170.71" width="5.78" height="23.68" fill="#98b3d5"/>
<rect x="294.73" y="170.71" width="5.78" height="23.68" fill="#6593c4"/>
<rect x="300.21" y="170.71" width="5.78" height="23.68" fill="#afc3de"/>
<rect x="305.69" y="170.71" width="5.78" height="23.68" fill="#fcdfdb"/>
<rect x="311.18" y="170.71" width="5.78" height="23.68" fill="#ee8a7d"/>
<rect x="316.66" y="170.71" width="5.78" height="23.68" fill="#e7ecf4"/>
<rect x="322.14" y="170.71" width="5.78" height="23.68" fill="#f4f6f9"/>
<rect x="327.62" y="170.71" width="5.78" height="23.68" fill="#eef1f6"/>
<rect x="333.10" y="170.71" width="5.78" height="23.68" fill="#fbd8d3"/>
<rect x="338.58" y="170.71" width="5.78" height="23.68" fill="#fcedeb"/>
<rect x="344.07" y="170.71" width="5.78" height="23.68" fill="#f4a397"/>
<rect x="349.55" y="170.71" width="5.78" height="23.68" fill="#fbd8d3"/>
<rect x="355.03" y="170.71" width="5.78" height="23.68" fill="#f4a397"/>
<rect x="360.51" y="170.71" width="5.78" height="23.68" fill="#c7d4e7"/>
<rect x="365.99" y="170.71" width="5.78" height="23.68" fill="#fbd8d3"/>
<rect x="371.47" y="170.71" width="5.78" height="23.68" fill="#afc3de"/>
<rect x="376.96" y="170.71" width="5.78" height="23.68" fill="#fbd8d3"/>
<rect x="382.44" y="170.71" width="5.78" height="23.68" fill="#fce6e3"/>
<rect x="387.92" y="170.71" width="5.78" height="23.68" fill="#ee8a7d"/>
<rect x="393.40" y="170.71" width="5.78" height="23.68" fill="#f4f6f9"/>
<rect x="398.88" y="170.71" width="5.78" height="23.68" fill="#6e98c7"/>
<rect x="404.36" y="170.71" width="5.78" height="23.68" fill="#e1e7f1"/>
<rect x="409.85" y="170.71" width="5.78" height="23.68" fill="#98b3d5"/>
<rect x="415.33" y="170.71" width="5.78" height="23.68" fill="#bfcee4"/>
<rect x="420.81" y="170.71" width="5.78" height="23.68" fill="#f4f6f9"/>
<rect x="426.29" y="170.71" width="5.78" height="23.68" fill="#6e98c7"/>
<rect x="431.77" y="170.71" width="5.78" height="23.68" fill="#cdd9ea"/>
<rect x="437.25" y="170.71" width="5.78" height="23.68" fill="#d4deec"/>
<rect x="442.74" y="170.71" width="5.78" height="23.68" fill="#b7c9e1"/>
<rect x="448.22" y="170.71" width="5.78" height="23.68" fill="#cdd9ea"/>
<rect x="64.50" y="194.09" width="5.78" height="23.68" fill="#fbd8d3"/>
<rect x="69.98" y="194.09" width="5.78" height="23.68" fill="#d8423c"/>
<rect x="75.46" y="194.09" width="5.78" height="23.68" fill="#f4a397"/>
<rect x="80.95" y="194.09" width="5.78" height="23.68" fill="#fbf4f3"/>
<rect x="86.43" y="194.09" width="5.78" height="23.68" fill="#cdd9ea"/>
<rect x="91.91" y="194.09" width="5.78" height="23.68" fill="#ee8a7d"/>
<rect x="97.39" y="194.09" width="5.78" height="23.68" fill="#ee8a7d"/>
<rect x="102.87" y="194.09" width="5.78" height="23.68" fill="#e7ecf4"/>
<rect x="108.35" y="194.09" width="5.78" height="23.68" fill="#f4f6f9"/>
<rect x="113.84" y="194.09" width="5.78" height="23.68" fill="#fce6e3"/>
<rect x="119.32" y="194.09" width="5.78" height="23.68" fill="#fcdfdb"/>
<rect x="124.80" y="194.09" width="5.78" height="23.68" fill="#f4a397"/>
<rect x="130.28" y="194.09" width="5.78" height="23.68" fill="#fbfbfb"/>
<rect x="135.76" y="194.09" width="5.78" height="23.68" fill="#afc3de"/>
<rect x="141.24" y="194.09" width="5.78" height="23.68" fill="#f39b8f"/>
<rect x="146.73" y="194.09" width="5.78" height="23.68" fill="#b7c9e1"/>
<rect x="152.21" y="194.09" width="5.78" height="23.68" fill="#fac4bb"/>
<rect x="157.69" y="194.09" width="5.78" height="23.68" fill="#d94740"/>
<rect x="163.17" y="194.09" width="5.78" height="23.68" fill="#fbd8d3"/>
<rect x="168.65" y="194.09" width="5.78" height="23.68" fill="#dae3ef"/>
<rect x="174.13" y="194.09" width="5.78" height="23.68" fill="#fbd2cb"/>
<rect x="179.62" y="194.09" width="5.78" height="23.68" fill="#fcedeb"/>
<rect x="185.10" y="194.09" width="5.78" height="23.68" fill="#b7c9e1"/>
<rect x="190.58" y="194.09" width="5.78" height="23.68" fill="#fbd2cb"/>
<rect x="196.06" y="194.09" width="5.78" height="23.68" fill="#f39b8f"/>
<rect x="201.54" y="194.09" width="5.78" height="23.68" fill="#fbf4f3"/>
<rect x="207.02" y="194.09" width="5.78" height="23.68" fill="#fbd8d3"/>
<rect x="212.51" y="194.09" width="5.78" height="23.68" fill="#c7d4e7"/>
<rect x="217.99" y="194.09" width="5.78" height="23.68" fill="#fbd2cb"/>
<rect x="223.47" y="194.09" width="5.78" height="23.68" fill="#f9bcb2"/>
<rect x="228.95" y="194.09" width="5.78" height="23.68" fill="#c7d4e7"/>
<rect x="234.43" y="194.09" width="5.78" height="23.68" fill="#d4deec"/>
<rect x="239.91" y="194.09" width="5.78" height="23.68" fill="#c7d4e7"/>
<rect x="245.40" y="194.09" width="5.78" height="23.68" fill="#6593c4"/>
<rect x="250.88" y="194.09" width="5.78" height="23.68" fill="#c7d4e7"/>
<rect x="256.36" y="194.09" width="5.78" height="23.68" fill="#fac4bb"/>
<rect x="261.84" y="194.09" width="5.78" height="23.68" fill="#b7c9e1"/>
<rect x="267.32" y="194.09" width="5.78" height="23.68" fill="#87a8d0"/>
<rect x="272.80" y="194.09" width="5.78" height="23.68" fill="#f6aba0"/>
<rect x="278.29" y="194.09" width="5.78" height="23.68" fill="#f6aba0"/>
<rect x="283.77" y="194.09" width="5.78" height="23.68" fill="#f4f6f9"/>
<rect x="289.25" y="194.09" width="5.78" height="23.68" fill="#d4deec"/>
<rect x="294.73" y="194.09" width="5.78" height="23.68" fill="#f19386"/>
<rect x="300.21" y="194.09" width="5.78" height="23.68" fill="#f39b8f"/>
<rect x="305.69" y="194.09" width="5.78" height="23.68" fill="#bfcee4"/>
<rect x="311.18" y="194.09" width="5.78" height="23.68" fill="#bfcee4"/>
<rect x="316.66" y="194.09" width="5.78" height="23.68" fill="#fce6e3"/>
<rect x="322.14" y="194.09" width="5.78" height="23.68" fill="#c7d4e7"/>
<rect x="327.62" y="194.09" width="5.78" height="23.68" fill="#f4a397"/>
<rect x="333.10" y="194.09" width="5.78" height="23.68" fill="#fbd8d3"/>
<rect x="338.58" y="194.09" width="5.78" height="23.68" fill="#fbd2cb"/>
<rect x="344.07" y="194.09" width="5.78" height="23.68" fill="#d4deec"/>
<rect x="349.55" y="194.09" width="5.78" height="23.68" fill="#98b3d5"/>
<rect x="355.03" y="194.09" width="5.78" height="23.68" fill="#a7bedb"/>
<rect x="360.51" y="194.09" width="5.78" height="23.68" fill="#e7ecf4"/>
<rect x="365.99" y="194.09" width="5.78" height="23.68" fill="#dae3ef"/>
<rect x="371.47" y="194.09" width="5.78" height="23.68" fill="#779dca"/>
<rect x="376.96" y="194.09" width="5.78" height="23.68" fill="#dae3ef"/>
<rect x="382.44" y="194.09" width="5.78" height="23.68" fill="#facbc3"/>
<rect x="387.92" y="194.09" width="5.78" height="23.68" fill="#e7ecf4"/>
<rect x="393.40" y="194.09" width="5.78" height="23.68" fill="#cdd9ea"/>
<rect x="398.88" y="194.09" width="5.78" height="23.68" fill="#f6aba0"/>
<rect x="404.36" y="194.09" width="5.78" height="23.68" fill="#7fa3cd"/>
<rect x="409.85" y="194.09" width="5.78" height="23.68" fill="#e7ecf4"/>
<rect x="415.33" y="194.09" width="5.78" height="23.68" fill="#f7b4a9"/>
<rect x="420.81" y="194.09" width="5.78" height="23.68" fill="#5c8ec1"/>
<rect x="426.29" y="194.09" width="5.78" height="23.68" fill="#fbd8d3"/>
<rect x="431.77" y="194.09" width="5.78" height="23.68" fill="#ec8275"/>
<rect x="437.25" y="194.09" width="5.78" height="23.68" fill="#cdd9ea"/>
<rect x="442.74" y="194.09" width="5.78" height="23.68" fill="#c7d4e7"/>
<rect x="448.22" y="194.09" width="5.78" height="23.68" fill="#cdd9ea"/>
<rect x="64.50" y="7.20" width="389.20" height="212.25" fill="none" stroke="#222" stroke-width="1.1"/>
<text x="58.60" y="20.95" font-size="8.00" text-anchor="end" fill="#404040">MDSC</text>
<line x1="61.2" y1="19.00" x2="64.5" y2="19.00" stroke="#333" stroke-width="0.9"/>
<text x="58.60" y="44.33" font-size="8.00" text-anchor="end" fill="#404040">FDC</text>
<line x1="61.2" y1="42.38" x2="64.5" y2="42.38" stroke="#333" stroke-width="0.9"/>
<text x="58.60" y="67.71" font-size="8.00" text-anchor="end" fill="#404040">Treg</text>
<line x1="61.2" y1="65.76" x2="64.5" y2="65.76" stroke="#333" stroke-width="0.9"/>
<text x="58.60" y="91.09" font-size="8.00" text-anchor="end" fill="#404040">Mast</text>
<line x1="61.2" y1="89.14" x2="64.5" y2="89.14" stroke="#333" stroke-width="0.9"/>
<text x="58.60" y="114.47" font-size="8.00" text-anchor="end" fill="#404040">Th2</text>
<line x1="61.2" y1="112.52" x2="64.5" y2="112.52" stroke="#333" stroke-width="0.9"/>
<text x="58.60" y="137.85" font-size="8.00" text-anchor="end" fill="#404040">HRS</text>
<line x1="61.2" y1="135.90" x2="64.5" y2="135.90" stroke="#333" stroke-width="0.9"/>
<text x="58.60" y="161.23" font-size="8.00" text-anchor="end" fill="#404040">Th1</text>
<line x1="61.2" y1="159.28" x2="64.5" y2="159.28" stroke="#333" stroke-width="0.9"/>
<text x="58.60" y="184.61" font-size="8.00" text-anchor="end" fill="#404040">B-cell</text>
<line x1="61.2" y1="182.66" x2="64.5" y2="182.66" stroke="#333" stroke-width="0.9"/>
<text x="58.60" y="207.99" font-size="8.00" text-anchor="end" fill="#404040">CTL</text>
<line x1="61.2" y1="206.04" x2="64.5" y2="206.04" stroke="#333" stroke-width="0.9"/>
<rect x="18.7" y="89.60" width="7.9" height="3.92" fill="#ca0020"/>
<rect x="18.7" y="93.27" width="7.9" height="3.92" fill="#da4841"/>
<rect x="18.7" y="96.94" width="7.9" height="3.92" fill="#e77063"/>
<rect x="18.7" y="100.61" width="7.9" height="3.92" fill="#f19387"/>
<rect x="18.7" y="104.28" width="7.9" height="3.92" fill="#f8b6ac"/>
<rect x="18.7" y="107.95" width="7.9" height="3.92" fill="#fbd8d3"/>
<rect x="18.7" y="111.62" width="7.9" height="3.92" fill="#fbfbfb"/>
<rect x="18.7" y="115.28" width="7.9" height="3.92" fill="#dae3ef"/>
<rect x="18.7" y="118.95" width="7.9" height="3.92" fill="#bacbe2"/>
<rect x="18.7" y="122.62" width="7.9" height="3.92" fill="#98b3d6"/>
<rect x="18.7" y="126.29" width="7.9" height="3.92" fill="#759cc9"/>
<rect x="18.7" y="129.96" width="7.9" height="3.92" fill="#4e86bd"/>
<rect x="18.7" y="133.63" width="7.9" height="3.92" fill="#0571b0"/>
<text x="36.60" y="93.95" font-size="6.60" text-anchor="end" fill="#404040">3</text>
<text x="36.60" y="101.40" font-size="6.60" text-anchor="end" fill="#404040">2</text>
<text x="36.60" y="108.65" font-size="6.60" text-anchor="end" fill="#404040">1</text>
<text x="36.60" y="115.75" font-size="6.60" text-anchor="end" fill="#404040">0</text>
<text x="36.60" y="123.65" font-size="6.60" text-anchor="end" fill="#404040">−1</text>
<text x="36.60" y="130.90" font-size="6.60" text-anchor="end" fill="#404040">−2</text>
<text x="36.60" y="137.75" font-size="6.60" text-anchor="end" fill="#404040">−3</text>
<text transform="translate(14.70 113.05) rotate(-90)" x="0" y="0" font-size="8.50" text-anchor="middle" textLength="59.30" lengthAdjust="spacingAndGlyphs" fill="#404040">Scaled expression</text>
<rect x="453.70" y="7.20" width="58.70" height="212.25" fill="none" stroke="#222" stroke-width="1.1"/>
<rect x="481.50" y="8.75" width="29.00" height="20.25" fill="#58595b"/>
<rect x="481.50" y="32.06" width="22.50" height="20.25" fill="#58595b"/>
<rect x="481.50" y="55.37" width="21.90" height="20.25" fill="#58595b"/>
<rect x="481.50" y="78.68" width="14.70" height="20.25" fill="#58595b"/>
<rect x="481.50" y="101.99" width="8.90" height="20.25" fill="#58595b"/>
<rect x="481.50" y="125.30" width="4.50" height="20.25" fill="#58595b"/>
<rect x="469.90" y="148.61" width="11.60" height="20.25" fill="#58595b"/>
<rect x="466.40" y="171.92" width="15.10" height="20.25" fill="#58595b"/>
<rect x="457.00" y="195.23" width="24.50" height="20.25" fill="#58595b"/>
<line x1="464.40" y1="219" x2="464.40" y2="222" stroke="#333" stroke-width="0.9"/>
<text x="464.10" y="231.90" font-size="8.00" text-anchor="middle" fill="#404040">−0.2</text>
<line x1="481.10" y1="219" x2="481.10" y2="222" stroke="#333" stroke-width="0.9"/>
<text x="480.80" y="231.90" font-size="8.00" text-anchor="middle" fill="#404040">0.0</text>
<line x1="497.80" y1="219" x2="497.80" y2="222" stroke="#333" stroke-width="0.9"/>
<text x="497.50" y="231.90" font-size="8.00" text-anchor="middle" fill="#404040">0.2</text>
<text x="483.85" y="244.10" font-size="9.50" text-anchor="middle" textLength="20.70" lengthAdjust="spacingAndGlyphs" fill="#404040">Model</text>
<text x="483.80" y="255.70" font-size="9.50" text-anchor="middle" textLength="34.40" lengthAdjust="spacingAndGlyphs" fill="#404040">coefficient</text>
<text x="7.60" y="247.20" font-size="10.50" font-weight="bold" fill="#111">B</text>
<rect x="65.00" y="328.50" width="4.48" height="11.70" fill="#0f4f8a"/>
<rect x="70.48" y="320.80" width="4.48" height="19.40" fill="#0f4f8a"/>
<rect x="75.96" y="316.30" width="4.48" height="23.90" fill="#0f4f8a"/>
<rect x="81.45" y="314.80" width="4.48" height="25.40" fill="#0f4f8a"/>
<rect x="86.93" y="310.80" width="4.48" height="29.40" fill="#0f4f8a"/>
<rect x="92.41" y="306.20" width="4.48" height="34.00" fill="#0f4f8a"/>
<rect x="97.89" y="301.90" width="4.48" height="38.30" fill="#0f4f8a"/>
<rect x="103.37" y="301.00" width="4.48" height="39.20" fill="#0f4f8a"/>
<rect x="108.85" y="297.30" width="4.48" height="42.90" fill="#0f4f8a"/>
<rect x="114.34" y="297.30" width="4.48" height="42.90" fill="#0f4f8a"/>
<rect x="119.82" y="296.50" width="4.48" height="43.70" fill="#0f4f8a"/>
<rect x="125.30" y="294.00" width="4.48" height="46.20" fill="#0f4f8a"/>
<rect x="130.78" y="291.70" width="4.48" height="48.50" fill="#0f4f8a"/>
<rect x="136.26" y="290.60" width="4.48" height="49.60" fill="#0f4f8a"/>
<rect x="141.74" y="289.80" width="4.48" height="50.40" fill="#0f4f8a"/>
<rect x="147.23" y="289.00" width="4.48" height="51.20" fill="#0f4f8a"/>
<rect x="152.71" y="287.90" width="4.48" height="52.30" fill="#0f4f8a"/>
<rect x="158.19" y="286.90" width="4.48" height="53.30" fill="#0f4f8a"/>
<rect x="163.67" y="286.50" width="4.48" height="53.70" fill="#0f4f8a"/>
<rect x="169.15" y="285.40" width="4.48" height="54.80" fill="#0f4f8a"/>
<rect x="174.63" y="285.00" width="4.48" height="55.20" fill="#0f4f8a"/>
<rect x="180.12" y="285.00" width="4.48" height="55.20" fill="#0f4f8a"/>
<rect x="185.60" y="283.30" width="4.48" height="56.90" fill="#0f4f8a"/>
<rect x="191.08" y="283.50" width="4.48" height="56.70" fill="#0f4f8a"/>
<rect x="196.56" y="283.10" width="4.48" height="57.10" fill="#0f4f8a"/>
<rect x="202.04" y="282.70" width="4.48" height="57.50" fill="#0f4f8a"/>
<rect x="207.52" y="280.00" width="4.48" height="60.20" fill="#0f4f8a"/>
<rect x="213.01" y="279.40" width="4.48" height="60.80" fill="#0f4f8a"/>
<rect x="218.49" y="278.70" width="4.48" height="61.50" fill="#0f4f8a"/>
<rect x="223.97" y="278.30" width="4.48" height="61.90" fill="#0f4f8a"/>
<rect x="229.45" y="277.50" width="4.48" height="62.70" fill="#0f4f8a"/>
<rect x="234.93" y="276.90" width="4.48" height="63.30" fill="#0f4f8a"/>
<rect x="240.41" y="276.90" width="4.48" height="63.30" fill="#0f4f8a"/>
<rect x="245.90" y="276.90" width="4.48" height="63.30" fill="#0f4f8a"/>
<rect x="251.38" y="276.90" width="4.48" height="63.30" fill="#0f4f8a"/>
<rect x="256.86" y="276.00" width="4.48" height="64.20" fill="#0f4f8a"/>
<rect x="262.34" y="274.60" width="4.48" height="65.60" fill="#0f4f8a"/>
<rect x="267.82" y="274.60" width="4.48" height="65.60" fill="#0f4f8a"/>
<rect x="273.30" y="274.60" width="4.48" height="65.60" fill="#0f4f8a"/>
<rect x="278.79" y="273.30" width="4.48" height="66.90" fill="#0f4f8a"/>
<rect x="284.27" y="273.10" width="4.48" height="67.10" fill="#c8102e"/>
<rect x="289.75" y="273.10" width="4.48" height="67.10" fill="#c8102e"/>
<rect x="295.23" y="272.30" width="4.48" height="67.90" fill="#c8102e"/>
<rect x="300.71" y="272.30" width="4.48" height="67.90" fill="#c8102e"/>
<rect x="306.19" y="272.30" width="4.48" height="67.90" fill="#c8102e"/>
<rect x="311.68" y="272.30" width="4.48" height="67.90" fill="#c8102e"/>
<rect x="317.16" y="271.50" width="4.48" height="68.70" fill="#c8102e"/>
<rect x="322.64" y="271.20" width="4.48" height="69.00" fill="#c8102e"/>
<rect x="328.12" y="271.20" width="4.48" height="69.00" fill="#c8102e"/>
<rect x="333.60" y="271.20" width="4.48" height="69.00" fill="#c8102e"/>
<rect x="339.08" y="271.20" width="4.48" height="69.00" fill="#c8102e"/>
<rect x="344.57" y="269.80" width="4.48" height="70.40" fill="#c8102e"/>
<rect x="350.05" y="269.80" width="4.48" height="70.40" fill="#c8102e"/>
<rect x="355.53" y="266.90" width="4.48" height="73.30" fill="#c8102e"/>
<rect x="361.01" y="266.00" width="4.48" height="74.20" fill="#c8102e"/>
<rect x="366.49" y="266.00" width="4.48" height="74.20" fill="#c8102e"/>
<rect x="371.97" y="265.60" width="4.48" height="74.60" fill="#c8102e"/>
<rect x="377.46" y="264.80" width="4.48" height="75.40" fill="#c8102e"/>
<rect x="382.94" y="264.20" width="4.48" height="76.00" fill="#c8102e"/>
<rect x="388.42" y="263.50" width="4.48" height="76.70" fill="#c8102e"/>
<rect x="393.90" y="263.50" width="4.48" height="76.70" fill="#c8102e"/>
<rect x="399.38" y="262.90" width="4.48" height="77.30" fill="#c8102e"/>
<rect x="404.86" y="259.40" width="4.48" height="80.80" fill="#c8102e"/>
<rect x="410.35" y="259.00" width="4.48" height="81.20" fill="#c8102e"/>
<rect x="415.83" y="258.30" width="4.48" height="81.90" fill="#c8102e"/>
<rect x="421.31" y="257.10" width="4.48" height="83.10" fill="#c8102e"/>
<rect x="426.79" y="256.20" width="4.48" height="84.00" fill="#c8102e"/>
<rect x="432.27" y="254.00" width="4.48" height="86.20" fill="#c8102e"/>
<rect x="437.75" y="253.80" width="4.48" height="86.40" fill="#c8102e"/>
<rect x="443.24" y="252.70" width="4.48" height="87.50" fill="#c8102e"/>
<rect x="448.72" y="252.70" width="4.48" height="87.50" fill="#c8102e"/>
<line x1="64.6" y1="238" x2="64.6" y2="340.95" stroke="#222" stroke-width="1.3"/>
<line x1="63.95" y1="340.3" x2="453.7" y2="340.3" stroke="#222" stroke-width="1.3"/>
<line x1="61.5" y1="257.70" x2="64.5" y2="257.70" stroke="#333" stroke-width="0.9"/>
<text x="58.80" y="260.60" font-size="8.30" text-anchor="end" fill="#404040">6</text>
<line x1="61.5" y1="289.00" x2="64.5" y2="289.00" stroke="#333" stroke-width="0.9"/>
<text x="58.80" y="291.90" font-size="8.30" text-anchor="end" fill="#404040">5</text>
<line x1="61.5" y1="320.20" x2="64.5" y2="320.20" stroke="#333" stroke-width="0.9"/>
<text x="58.80" y="323.10" font-size="8.30" text-anchor="end" fill="#404040">4</text>
<text transform="translate(49.00 288.80) rotate(-90)" x="0" y="0" font-size="10.00" text-anchor="middle" textLength="40.00" lengthAdjust="spacingAndGlyphs" fill="#404040">Model score</text>
<line x1="62.5" y1="273.4" x2="451.0" y2="273.4" stroke="#333" stroke-width="1.2" stroke-dasharray="4.3 2.032"/>
<text x="461.90" y="283.10" font-size="7.40" textLength="34.40" lengthAdjust="spacingAndGlyphs" fill="#404040">Risk group</text>
<rect x="461.3" y="287.5" width="6.6" height="6.0" fill="#c8102e"/>
<text x="470.60" y="292.90" font-size="7.40" textLength="15.40" lengthAdjust="spacingAndGlyphs" fill="#404040">High</text>
<rect x="461.3" y="296.9" width="6.6" height="6.2" fill="#0f4f8a"/>
<text x="470.60" y="302.30" font-size="7.40" textLength="13.40" lengthAdjust="spacingAndGlyphs" fill="#404040">Low</text>
<text x="7.60" y="367.00" font-size="10.50" font-weight="bold" fill="#111">C</text>
<rect x="64.50" y="358.30" width="389.20" height="16.10" fill="#0f4f8a"/>
<rect x="119.32" y="358.30" width="10.96" height="8.05" fill="#c8102e"/>
<rect x="135.76" y="358.30" width="5.48" height="8.05" fill="#c8102e"/>
<rect x="157.69" y="358.30" width="10.96" height="8.05" fill="#c8102e"/>
<rect x="174.13" y="358.30" width="10.96" height="8.05" fill="#c8102e"/>
<rect x="196.06" y="358.30" width="5.48" height="8.05" fill="#c8102e"/>
<rect x="223.47" y="358.30" width="5.48" height="8.05" fill="#c8102e"/>
<rect x="234.43" y="358.30" width="5.48" height="8.05" fill="#c8102e"/>
<rect x="245.40" y="358.30" width="16.45" height="8.05" fill="#c8102e"/>
<rect x="289.25" y="358.30" width="5.48" height="8.05" fill="#c8102e"/>
<rect x="305.69" y="358.30" width="5.48" height="8.05" fill="#c8102e"/>
<rect x="333.10" y="358.30" width="16.45" height="8.05" fill="#c8102e"/>
<rect x="355.03" y="358.30" width="5.48" height="8.05" fill="#c8102e"/>
<rect x="365.99" y="358.30" width="16.45" height="8.05" fill="#c8102e"/>
<rect x="387.92" y="358.30" width="16.45" height="8.05" fill="#c8102e"/>
<rect x="409.85" y="358.30" width="38.37" height="8.05" fill="#c8102e"/>
<rect x="223.47" y="366.05" width="5.48" height="8.35" fill="#c8102e"/>
<rect x="393.40" y="366.05" width="5.48" height="8.35" fill="#c8102e"/>
<rect x="409.85" y="366.05" width="5.48" height="8.35" fill="#c8102e"/>
<rect x="442.74" y="366.05" width="5.48" height="8.35" fill="#c8102e"/>
<rect x="64.50" y="358.30" width="389.20" height="16.10" fill="none" stroke="#1a1a1a" stroke-width="1.1"/>
<line x1="61.5" y1="362.00" x2="64.3" y2="362.00" stroke="#333" stroke-width="0.9"/>
<text x="58.80" y="364.90" font-size="8.40" text-anchor="end" textLength="13.60" lengthAdjust="spacingAndGlyphs" fill="#404040">EFS</text>
<line x1="61.5" y1="371.00" x2="64.3" y2="371.00" stroke="#333" stroke-width="0.9"/>
<text x="58.80" y="373.90" font-size="8.40" text-anchor="end" textLength="10.00" lengthAdjust="spacingAndGlyphs" fill="#404040">OS</text>
<text x="260.60" y="388.50" font-size="10.40" text-anchor="middle" textLength="25.40" lengthAdjust="spacingAndGlyphs" fill="#404040">Sample</text>
<text x="461.90" y="361.00" font-size="7.40" textLength="30.40" lengthAdjust="spacingAndGlyphs" fill="#404040">Outcome</text>
<rect x="461.3" y="365.4" width="6.6" height="6.1" fill="#c8102e"/>
<text x="470.60" y="370.60" font-size="7.40" textLength="18.40" lengthAdjust="spacingAndGlyphs" fill="#404040">Event</text>
<rect x="461.3" y="374.8" width="6.6" height="6.1" fill="#0f4f8a"/>
<text x="470.60" y="380.00" font-size="7.40" textLength="30.40" lengthAdjust="spacingAndGlyphs" fill="#404040">No event</text>
<text x="7.70" y="416.80" font-size="12.00" font-weight="bold" fill="#111">D</text>
<line x1="64.40" y1="406.5" x2="64.40" y2="551.6" stroke="#222" stroke-width="1.3"/>
<line x1="63.75" y1="550.9" x2="206.90" y2="550.9" stroke="#222" stroke-width="1.4"/>
<line x1="61.00" y1="413.50" x2="64.40" y2="413.50" stroke="#333" stroke-width="0.9"/>
<text x="58.60" y="415.90" font-size="7.60" text-anchor="end" textLength="14.40" lengthAdjust="spacingAndGlyphs" fill="#404040">1.00</text>
<line x1="61.00" y1="446.35" x2="64.40" y2="446.35" stroke="#333" stroke-width="0.9"/>
<text x="58.60" y="448.75" font-size="7.60" text-anchor="end" textLength="14.40" lengthAdjust="spacingAndGlyphs" fill="#404040">0.75</text>
<line x1="61.00" y1="479.20" x2="64.40" y2="479.20" stroke="#333" stroke-width="0.9"/>
<text x="58.60" y="481.60" font-size="7.60" text-anchor="end" textLength="14.40" lengthAdjust="spacingAndGlyphs" fill="#404040">0.50</text>
<line x1="61.00" y1="512.05" x2="64.40" y2="512.05" stroke="#333" stroke-width="0.9"/>
<text x="58.60" y="514.45" font-size="7.60" text-anchor="end" textLength="14.40" lengthAdjust="spacingAndGlyphs" fill="#404040">0.25</text>
<line x1="61.00" y1="544.90" x2="64.40" y2="544.90" stroke="#333" stroke-width="0.9"/>
<text x="58.60" y="547.30" font-size="7.60" text-anchor="end" textLength="14.40" lengthAdjust="spacingAndGlyphs" fill="#404040">0.00</text>
<text transform="translate(37.40 478.80) rotate(-90)" x="0" y="0" font-size="10.00" text-anchor="middle" textLength="66.40" lengthAdjust="spacingAndGlyphs" fill="#404040">Survival probability</text>
<line x1="70.30" y1="551.3" x2="70.30" y2="554.2" stroke="#333" stroke-width="1.0"/>
<text x="70.30" y="563.80" font-size="8.40" text-anchor="middle" fill="#404040">0</text>
<line x1="92.54" y1="551.3" x2="92.54" y2="554.2" stroke="#333" stroke-width="1.0"/>
<text x="92.54" y="563.80" font-size="8.40" text-anchor="middle" fill="#404040">2</text>
<line x1="114.78" y1="551.3" x2="114.78" y2="554.2" stroke="#333" stroke-width="1.0"/>
<text x="114.78" y="563.80" font-size="8.40" text-anchor="middle" fill="#404040">4</text>
<line x1="137.02" y1="551.3" x2="137.02" y2="554.2" stroke="#333" stroke-width="1.0"/>
<text x="137.02" y="563.80" font-size="8.40" text-anchor="middle" fill="#404040">6</text>
<line x1="159.26" y1="551.3" x2="159.26" y2="554.2" stroke="#333" stroke-width="1.0"/>
<text x="159.26" y="563.80" font-size="8.40" text-anchor="middle" fill="#404040">8</text>
<line x1="181.50" y1="551.3" x2="181.50" y2="554.2" stroke="#333" stroke-width="1.0"/>
<text x="181.50" y="563.80" font-size="8.40" text-anchor="middle" fill="#404040">10</text>
<text x="136.75" y="576.10" font-size="10.00" text-anchor="middle" textLength="40.10" lengthAdjust="spacingAndGlyphs" fill="#404040">Time (years)</text>
<path d="M70.30 413.30 L75.30 413.30 L75.30 415.80 L76.30 415.80 L76.30 423.10 L80.40 423.10 L80.40 426.30 L81.10 426.30 L81.10 432.90 L83.50 432.90 L83.50 439.00 L84.30 439.00 L84.30 442.20 L87.00 442.20 L87.00 446.10 L99.00 446.10 L99.00 449.20 L105.20 449.20 L105.20 452.70 L107.80 452.70 L107.80 456.20 L202.90 456.20" fill="none" stroke="#0f4f8a" stroke-width="1.35" stroke-linejoin="miter"/>
<path d="M70.30 413.30 L74.50 413.30 L74.50 429.60 L77.50 429.60 L77.50 436.00 L78.30 436.00 L78.30 444.00 L79.10 444.00 L79.10 452.00 L79.90 452.00 L79.90 459.60 L80.80 459.60 L80.80 463.50 L85.50 463.50 L85.50 468.10 L91.70 468.10 L91.70 472.20 L97.10 472.20 L97.10 485.00 L98.60 485.00 L98.60 489.30 L127.10 489.30 L127.10 495.00 L164.80 495.00" fill="none" stroke="#c8102e" stroke-width="1.35" stroke-linejoin="miter"/>
<line x1="111.40" y1="453.70" x2="111.40" y2="458.70" stroke="#0f4f8a" stroke-width="1.1"/>
<line x1="114.80" y1="453.70" x2="114.80" y2="458.70" stroke="#0f4f8a" stroke-width="1.1"/>
<line x1="118.20" y1="453.70" x2="118.20" y2="458.70" stroke="#0f4f8a" stroke-width="1.1"/>
<line x1="131.70" y1="453.70" x2="131.70" y2="458.70" stroke="#0f4f8a" stroke-width="1.1"/>
<line x1="134.80" y1="453.70" x2="134.80" y2="458.70" stroke="#0f4f8a" stroke-width="1.1"/>
<line x1="135.50" y1="453.70" x2="135.50" y2="458.70" stroke="#0f4f8a" stroke-width="1.1"/>
<line x1="137.80" y1="453.70" x2="137.80" y2="458.70" stroke="#0f4f8a" stroke-width="1.1"/>
<line x1="139.70" y1="453.70" x2="139.70" y2="458.70" stroke="#0f4f8a" stroke-width="1.1"/>
<line x1="145.80" y1="453.70" x2="145.80" y2="458.70" stroke="#0f4f8a" stroke-width="1.1"/>
<line x1="155.30" y1="453.70" x2="155.30" y2="458.70" stroke="#0f4f8a" stroke-width="1.1"/>
<line x1="156.20" y1="453.70" x2="156.20" y2="458.70" stroke="#0f4f8a" stroke-width="1.1"/>
<line x1="157.90" y1="453.70" x2="157.90" y2="458.70" stroke="#0f4f8a" stroke-width="1.1"/>
<line x1="160.20" y1="453.70" x2="160.20" y2="458.70" stroke="#0f4f8a" stroke-width="1.1"/>
<line x1="163.60" y1="453.70" x2="163.60" y2="458.70" stroke="#0f4f8a" stroke-width="1.1"/>
<line x1="164.90" y1="453.70" x2="164.90" y2="458.70" stroke="#0f4f8a" stroke-width="1.1"/>
<line x1="166.50" y1="453.70" x2="166.50" y2="458.70" stroke="#0f4f8a" stroke-width="1.1"/>
<line x1="167.80" y1="453.70" x2="167.80" y2="458.70" stroke="#0f4f8a" stroke-width="1.1"/>
<line x1="184.60" y1="453.70" x2="184.60" y2="458.70" stroke="#0f4f8a" stroke-width="1.1"/>
<line x1="189.90" y1="453.70" x2="189.90" y2="458.70" stroke="#0f4f8a" stroke-width="1.1"/>
<line x1="200.50" y1="453.70" x2="200.50" y2="458.70" stroke="#0f4f8a" stroke-width="1.1"/>
<line x1="104.80" y1="486.80" x2="104.80" y2="491.80" stroke="#c8102e" stroke-width="1.1"/>
<line x1="107.50" y1="486.80" x2="107.50" y2="491.80" stroke="#c8102e" stroke-width="1.1"/>
<line x1="114.50" y1="486.80" x2="114.50" y2="491.80" stroke="#c8102e" stroke-width="1.1"/>
<line x1="131.70" y1="492.50" x2="131.70" y2="497.50" stroke="#c8102e" stroke-width="1.1"/>
<line x1="134.00" y1="492.50" x2="134.00" y2="497.50" stroke="#c8102e" stroke-width="1.1"/>
<line x1="136.30" y1="492.50" x2="136.30" y2="497.50" stroke="#c8102e" stroke-width="1.1"/>
<line x1="138.60" y1="492.50" x2="138.60" y2="497.50" stroke="#c8102e" stroke-width="1.1"/>
<line x1="143.30" y1="492.50" x2="143.30" y2="497.50" stroke="#c8102e" stroke-width="1.1"/>
<line x1="155.60" y1="492.50" x2="155.60" y2="497.50" stroke="#c8102e" stroke-width="1.1"/>
<line x1="158.50" y1="492.50" x2="158.50" y2="497.50" stroke="#c8102e" stroke-width="1.1"/>
<line x1="163.60" y1="492.50" x2="163.60" y2="497.50" stroke="#c8102e" stroke-width="1.1"/>
<text x="214.80" y="471.10" font-size="7.40" textLength="34.60" lengthAdjust="spacingAndGlyphs" fill="#404040">Risk group</text>
<line x1="214.20" y1="478.6" x2="222.10" y2="478.6" stroke="#c8102e" stroke-width="1.2"/>
<line x1="218.20" y1="476.5" x2="218.20" y2="480.6" stroke="#c8102e" stroke-width="1.0"/>
<text x="225.20" y="480.60" font-size="7.40" textLength="15.60" lengthAdjust="spacingAndGlyphs" fill="#404040">High</text>
<line x1="214.20" y1="487.5" x2="222.10" y2="487.5" stroke="#0f4f8a" stroke-width="1.2"/>
<line x1="218.20" y1="485.4" x2="218.20" y2="489.5" stroke="#0f4f8a" stroke-width="1.0"/>
<text x="225.20" y="489.60" font-size="7.40" textLength="13.80" lengthAdjust="spacingAndGlyphs" fill="#404040">Low</text>
<text x="75.60" y="529.10" font-size="7.20" textLength="72.00" lengthAdjust="spacingAndGlyphs" fill="#404040">Log–rank <tspan font-style="italic">P</tspan> = 0.0091</text>
<text x="75.60" y="538.10" font-size="7.20" textLength="95.00" lengthAdjust="spacingAndGlyphs" fill="#404040">HR (95% CI) = 2.5 (1.2–5.1)</text>
<text transform="translate(38.00 600.00) rotate(-90)" x="0" y="0" font-size="10.00" text-anchor="middle" textLength="36.00" lengthAdjust="spacingAndGlyphs" fill="#404040">Risk group</text>
<text x="58.40" y="597.40" font-size="8.50" text-anchor="end" textLength="13.90" lengthAdjust="spacingAndGlyphs" fill="#0f4f8a">Low</text>
<text x="58.40" y="607.90" font-size="8.50" text-anchor="end" textLength="16.50" lengthAdjust="spacingAndGlyphs" fill="#c8102e">High</text>
<line x1="61.20" y1="595.00" x2="64.50" y2="595.00" stroke="#333" stroke-width="0.9"/>
<line x1="61.20" y1="605.30" x2="64.50" y2="605.30" stroke="#333" stroke-width="0.9"/>
<line x1="64.50" y1="588.9" x2="64.50" y2="612.2" stroke="#222" stroke-width="1.3"/>
<line x1="63.85" y1="611.5" x2="206.90" y2="611.5" stroke="#222" stroke-width="1.4"/>
<text x="70.30" y="597.80" font-size="8.50" text-anchor="middle" fill="#404040">40</text>
<text x="70.30" y="607.80" font-size="8.50" text-anchor="middle" fill="#404040">31</text>
<line x1="70.30" y1="611.6" x2="70.30" y2="614.4" stroke="#333" stroke-width="0.9"/>
<text x="70.30" y="623.50" font-size="8.40" text-anchor="middle" fill="#404040">0</text>
<text x="92.54" y="597.80" font-size="8.50" text-anchor="middle" fill="#404040">30</text>
<text x="92.54" y="607.80" font-size="8.50" text-anchor="middle" fill="#404040">17</text>
<line x1="92.54" y1="611.6" x2="92.54" y2="614.4" stroke="#333" stroke-width="0.9"/>
<text x="92.54" y="623.50" font-size="8.40" text-anchor="middle" fill="#404040">2</text>
<text x="114.78" y="597.80" font-size="8.50" text-anchor="middle" fill="#404040">25</text>
<text x="114.78" y="607.80" font-size="8.50" text-anchor="middle" fill="#404040">10</text>
<line x1="114.78" y1="611.6" x2="114.78" y2="614.4" stroke="#333" stroke-width="0.9"/>
<text x="114.78" y="623.50" font-size="8.40" text-anchor="middle" fill="#404040">4</text>
<text x="137.02" y="597.80" font-size="8.50" text-anchor="middle" fill="#404040">18</text>
<text x="137.02" y="607.80" font-size="8.50" text-anchor="middle" fill="#404040">5</text>
<line x1="137.02" y1="611.6" x2="137.02" y2="614.4" stroke="#333" stroke-width="0.9"/>
<text x="137.02" y="623.50" font-size="8.40" text-anchor="middle" fill="#404040">6</text>
<text x="159.26" y="597.80" font-size="8.50" text-anchor="middle" fill="#404040">10</text>
<text x="159.26" y="607.80" font-size="8.50" text-anchor="middle" fill="#404040">1</text>
<line x1="159.26" y1="611.6" x2="159.26" y2="614.4" stroke="#333" stroke-width="0.9"/>
<text x="159.26" y="623.50" font-size="8.40" text-anchor="middle" fill="#404040">8</text>
<text x="181.50" y="597.80" font-size="8.50" text-anchor="middle" fill="#404040">4</text>
<text x="181.50" y="607.80" font-size="8.50" text-anchor="middle" fill="#404040">0</text>
<line x1="181.50" y1="611.6" x2="181.50" y2="614.4" stroke="#333" stroke-width="0.9"/>
<text x="181.50" y="623.50" font-size="8.40" text-anchor="middle" fill="#404040">10</text>
<text x="135.60" y="636.70" font-size="10.00" text-anchor="middle" textLength="75.40" lengthAdjust="spacingAndGlyphs" fill="#404040">Number at risk by time</text>
<text x="268.30" y="416.80" font-size="12.00" font-weight="bold" fill="#111">E</text>
<line x1="311.40" y1="406.5" x2="311.40" y2="551.6" stroke="#222" stroke-width="1.3"/>
<line x1="310.75" y1="550.9" x2="453.90" y2="550.9" stroke="#222" stroke-width="1.4"/>
<line x1="308.00" y1="413.50" x2="311.40" y2="413.50" stroke="#333" stroke-width="0.9"/>
<text x="305.60" y="415.90" font-size="7.60" text-anchor="end" textLength="14.40" lengthAdjust="spacingAndGlyphs" fill="#404040">1.00</text>
<line x1="308.00" y1="446.35" x2="311.40" y2="446.35" stroke="#333" stroke-width="0.9"/>
<text x="305.60" y="448.75" font-size="7.60" text-anchor="end" textLength="14.40" lengthAdjust="spacingAndGlyphs" fill="#404040">0.75</text>
<line x1="308.00" y1="479.20" x2="311.40" y2="479.20" stroke="#333" stroke-width="0.9"/>
<text x="305.60" y="481.60" font-size="7.60" text-anchor="end" textLength="14.40" lengthAdjust="spacingAndGlyphs" fill="#404040">0.50</text>
<line x1="308.00" y1="512.05" x2="311.40" y2="512.05" stroke="#333" stroke-width="0.9"/>
<text x="305.60" y="514.45" font-size="7.60" text-anchor="end" textLength="14.40" lengthAdjust="spacingAndGlyphs" fill="#404040">0.25</text>
<line x1="308.00" y1="544.90" x2="311.40" y2="544.90" stroke="#333" stroke-width="0.9"/>
<text x="305.60" y="547.30" font-size="7.60" text-anchor="end" textLength="14.40" lengthAdjust="spacingAndGlyphs" fill="#404040">0.00</text>
<text transform="translate(284.40 478.80) rotate(-90)" x="0" y="0" font-size="10.00" text-anchor="middle" textLength="66.40" lengthAdjust="spacingAndGlyphs" fill="#404040">Survival probability</text>
<line x1="317.30" y1="551.3" x2="317.30" y2="554.2" stroke="#333" stroke-width="1.0"/>
<text x="317.30" y="563.80" font-size="8.40" text-anchor="middle" fill="#404040">0</text>
<line x1="339.54" y1="551.3" x2="339.54" y2="554.2" stroke="#333" stroke-width="1.0"/>
<text x="339.54" y="563.80" font-size="8.40" text-anchor="middle" fill="#404040">2</text>
<line x1="361.78" y1="551.3" x2="361.78" y2="554.2" stroke="#333" stroke-width="1.0"/>
<text x="361.78" y="563.80" font-size="8.40" text-anchor="middle" fill="#404040">4</text>
<line x1="384.02" y1="551.3" x2="384.02" y2="554.2" stroke="#333" stroke-width="1.0"/>
<text x="384.02" y="563.80" font-size="8.40" text-anchor="middle" fill="#404040">6</text>
<line x1="406.26" y1="551.3" x2="406.26" y2="554.2" stroke="#333" stroke-width="1.0"/>
<text x="406.26" y="563.80" font-size="8.40" text-anchor="middle" fill="#404040">8</text>
<line x1="428.50" y1="551.3" x2="428.50" y2="554.2" stroke="#333" stroke-width="1.0"/>
<text x="428.50" y="563.80" font-size="8.40" text-anchor="middle" fill="#404040">10</text>
<text x="383.75" y="576.10" font-size="10.00" text-anchor="middle" textLength="40.10" lengthAdjust="spacingAndGlyphs" fill="#404040">Time (years)</text>
<path d="M318.30 412.80 L322.10 412.80 L322.10 413.80 L323.60 413.80 L323.60 415.20 L324.50 415.20 L324.50 416.20 L327.40 416.20 L327.40 417.60 L328.40 417.60 L328.40 418.60 L329.30 418.60 L329.30 420.00 L330.30 420.00 L330.30 421.50 L331.75 421.50 L331.75 422.40 L333.70 422.40 L333.70 423.20 L345.70 423.20 L345.70 423.90 L351.50 423.90 L351.50 424.50 L353.30 424.50 L353.30 425.30 L355.30 425.30 L355.30 425.80 L449.60 425.80" fill="none" stroke="#0f4f8a" stroke-width="1.35" stroke-linejoin="miter"/>
<path d="M318.30 412.80 L321.20 412.80 L321.20 415.20 L321.70 415.20 L321.70 420.00 L324.50 420.00 L324.50 422.00 L325.00 422.00 L325.00 426.30 L326.00 426.30 L326.00 430.00 L326.80 430.00 L326.80 434.90 L332.70 434.90 L332.70 436.70 L338.50 436.70 L338.50 438.60 L344.25 438.60 L344.25 442.60 L345.20 442.60 L345.20 445.60 L374.30 445.60 L374.30 448.10 L412.40 448.10" fill="none" stroke="#c8102e" stroke-width="1.35" stroke-linejoin="miter"/>
<line x1="358.20" y1="423.30" x2="358.20" y2="428.30" stroke="#0f4f8a" stroke-width="1.1"/>
<line x1="362.00" y1="423.30" x2="362.00" y2="428.30" stroke="#0f4f8a" stroke-width="1.1"/>
<line x1="365.80" y1="423.30" x2="365.80" y2="428.30" stroke="#0f4f8a" stroke-width="1.1"/>
<line x1="379.40" y1="423.30" x2="379.40" y2="428.30" stroke="#0f4f8a" stroke-width="1.1"/>
<line x1="382.00" y1="423.30" x2="382.00" y2="428.30" stroke="#0f4f8a" stroke-width="1.1"/>
<line x1="385.10" y1="423.30" x2="385.10" y2="428.30" stroke="#0f4f8a" stroke-width="1.1"/>
<line x1="386.60" y1="423.30" x2="386.60" y2="428.30" stroke="#0f4f8a" stroke-width="1.1"/>
<line x1="393.00" y1="423.30" x2="393.00" y2="428.30" stroke="#0f4f8a" stroke-width="1.1"/>
<line x1="402.70" y1="423.30" x2="402.70" y2="428.30" stroke="#0f4f8a" stroke-width="1.1"/>
<line x1="404.20" y1="423.30" x2="404.20" y2="428.30" stroke="#0f4f8a" stroke-width="1.1"/>
<line x1="406.50" y1="423.30" x2="406.50" y2="428.30" stroke="#0f4f8a" stroke-width="1.1"/>
<line x1="408.00" y1="423.30" x2="408.00" y2="428.30" stroke="#0f4f8a" stroke-width="1.1"/>
<line x1="411.20" y1="423.30" x2="411.20" y2="428.30" stroke="#0f4f8a" stroke-width="1.1"/>
<line x1="412.70" y1="423.30" x2="412.70" y2="428.30" stroke="#0f4f8a" stroke-width="1.1"/>
<line x1="414.20" y1="423.30" x2="414.20" y2="428.30" stroke="#0f4f8a" stroke-width="1.1"/>
<line x1="415.80" y1="423.30" x2="415.80" y2="428.30" stroke="#0f4f8a" stroke-width="1.1"/>
<line x1="431.90" y1="423.30" x2="431.90" y2="428.30" stroke="#0f4f8a" stroke-width="1.1"/>
<line x1="437.30" y1="423.30" x2="437.30" y2="428.30" stroke="#0f4f8a" stroke-width="1.1"/>
<line x1="448.00" y1="423.30" x2="448.00" y2="428.30" stroke="#0f4f8a" stroke-width="1.1"/>
<line x1="351.70" y1="443.10" x2="351.70" y2="448.10" stroke="#c8102e" stroke-width="1.1"/>
<line x1="354.00" y1="443.10" x2="354.00" y2="448.10" stroke="#c8102e" stroke-width="1.1"/>
<line x1="361.50" y1="443.10" x2="361.50" y2="448.10" stroke="#c8102e" stroke-width="1.1"/>
<line x1="378.90" y1="445.60" x2="378.90" y2="450.60" stroke="#c8102e" stroke-width="1.1"/>
<line x1="381.20" y1="445.60" x2="381.20" y2="450.60" stroke="#c8102e" stroke-width="1.1"/>
<line x1="383.50" y1="445.60" x2="383.50" y2="450.60" stroke="#c8102e" stroke-width="1.1"/>
<line x1="385.10" y1="445.60" x2="385.10" y2="450.60" stroke="#c8102e" stroke-width="1.1"/>
<line x1="390.40" y1="445.60" x2="390.40" y2="450.60" stroke="#c8102e" stroke-width="1.1"/>
<line x1="402.20" y1="445.60" x2="402.20" y2="450.60" stroke="#c8102e" stroke-width="1.1"/>
<line x1="405.80" y1="445.60" x2="405.80" y2="450.60" stroke="#c8102e" stroke-width="1.1"/>
<line x1="410.40" y1="445.60" x2="410.40" y2="450.60" stroke="#c8102e" stroke-width="1.1"/>
<text x="461.80" y="471.10" font-size="7.40" textLength="34.60" lengthAdjust="spacingAndGlyphs" fill="#404040">Risk group</text>
<line x1="461.20" y1="478.6" x2="469.10" y2="478.6" stroke="#c8102e" stroke-width="1.2"/>
<line x1="465.20" y1="476.5" x2="465.20" y2="480.6" stroke="#c8102e" stroke-width="1.0"/>
<text x="472.20" y="480.60" font-size="7.40" textLength="15.60" lengthAdjust="spacingAndGlyphs" fill="#404040">High</text>
<line x1="461.20" y1="487.5" x2="469.10" y2="487.5" stroke="#0f4f8a" stroke-width="1.2"/>
<line x1="465.20" y1="485.4" x2="465.20" y2="489.5" stroke="#0f4f8a" stroke-width="1.0"/>
<text x="472.20" y="489.60" font-size="7.40" textLength="13.80" lengthAdjust="spacingAndGlyphs" fill="#404040">Low</text>
<text x="322.60" y="529.10" font-size="7.20" textLength="107.00" lengthAdjust="spacingAndGlyphs" fill="#404040">Weighted log–rank <tspan font-style="italic">P</tspan> = 0.0138</text>
<text x="322.60" y="538.10" font-size="7.20" textLength="94.40" lengthAdjust="spacingAndGlyphs" fill="#404040">HR (95% CI) = 3.0 (1.3–7.4)</text>
<text transform="translate(285.00 600.00) rotate(-90)" x="0" y="0" font-size="10.00" text-anchor="middle" textLength="36.00" lengthAdjust="spacingAndGlyphs" fill="#404040">Risk group</text>
<text x="305.40" y="597.40" font-size="8.50" text-anchor="end" textLength="13.90" lengthAdjust="spacingAndGlyphs" fill="#0f4f8a">Low</text>
<text x="305.40" y="607.90" font-size="8.50" text-anchor="end" textLength="16.50" lengthAdjust="spacingAndGlyphs" fill="#c8102e">High</text>
<line x1="308.20" y1="595.00" x2="311.50" y2="595.00" stroke="#333" stroke-width="0.9"/>
<line x1="308.20" y1="605.30" x2="311.50" y2="605.30" stroke="#333" stroke-width="0.9"/>
<line x1="311.50" y1="588.9" x2="311.50" y2="612.2" stroke="#222" stroke-width="1.3"/>
<line x1="310.85" y1="611.5" x2="453.90" y2="611.5" stroke="#222" stroke-width="1.4"/>
<text x="317.30" y="597.80" font-size="8.50" text-anchor="middle" fill="#404040">40</text>
<text x="317.30" y="607.80" font-size="8.50" text-anchor="middle" fill="#404040">31</text>
<line x1="317.30" y1="611.6" x2="317.30" y2="614.4" stroke="#333" stroke-width="0.9"/>
<text x="317.30" y="623.50" font-size="8.40" text-anchor="middle" fill="#404040">0</text>
<text x="339.54" y="597.80" font-size="8.50" text-anchor="middle" fill="#404040">30</text>
<text x="339.54" y="607.80" font-size="8.50" text-anchor="middle" fill="#404040">17</text>
<line x1="339.54" y1="611.6" x2="339.54" y2="614.4" stroke="#333" stroke-width="0.9"/>
<text x="339.54" y="623.50" font-size="8.40" text-anchor="middle" fill="#404040">2</text>
<text x="361.78" y="597.80" font-size="8.50" text-anchor="middle" fill="#404040">25</text>
<text x="361.78" y="607.80" font-size="8.50" text-anchor="middle" fill="#404040">10</text>
<line x1="361.78" y1="611.6" x2="361.78" y2="614.4" stroke="#333" stroke-width="0.9"/>
<text x="361.78" y="623.50" font-size="8.40" text-anchor="middle" fill="#404040">4</text>
<text x="384.02" y="597.80" font-size="8.50" text-anchor="middle" fill="#404040">18</text>
<text x="384.02" y="607.80" font-size="8.50" text-anchor="middle" fill="#404040">5</text>
<line x1="384.02" y1="611.6" x2="384.02" y2="614.4" stroke="#333" stroke-width="0.9"/>
<text x="384.02" y="623.50" font-size="8.40" text-anchor="middle" fill="#404040">6</text>
<text x="406.26" y="597.80" font-size="8.50" text-anchor="middle" fill="#404040">10</text>
<text x="406.26" y="607.80" font-size="8.50" text-anchor="middle" fill="#404040">1</text>
<line x1="406.26" y1="611.6" x2="406.26" y2="614.4" stroke="#333" stroke-width="0.9"/>
<text x="406.26" y="623.50" font-size="8.40" text-anchor="middle" fill="#404040">8</text>
<text x="428.50" y="597.80" font-size="8.50" text-anchor="middle" fill="#404040">4</text>
<text x="428.50" y="607.80" font-size="8.50" text-anchor="middle" fill="#404040">0</text>
<line x1="428.50" y1="611.6" x2="428.50" y2="614.4" stroke="#333" stroke-width="0.9"/>
<text x="428.50" y="623.50" font-size="8.40" text-anchor="middle" fill="#404040">10</text>
<text x="382.60" y="636.70" font-size="10.00" text-anchor="middle" textLength="75.40" lengthAdjust="spacingAndGlyphs" fill="#404040">Number at risk by time</text>
<path d="M0 0.55 H520 M0.55 0 V644 M519.35 0 V644 M0 643.4 H520" fill="none" stroke="#231f20" stroke-width="1.15"/>
</svg></body></html>
